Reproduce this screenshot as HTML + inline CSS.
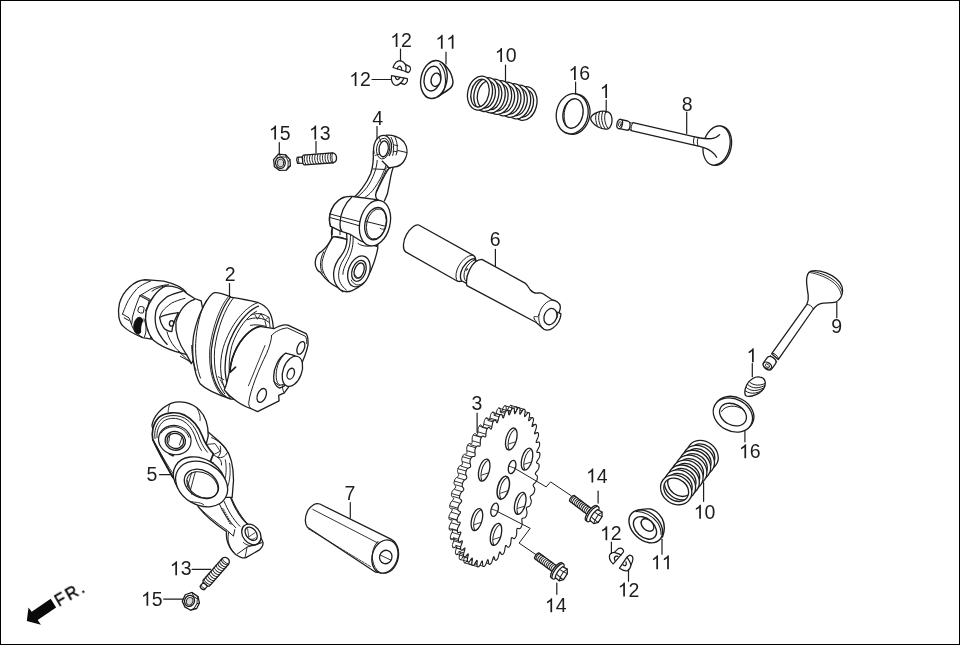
<!DOCTYPE html>
<html><head><meta charset="utf-8"><title>Camshaft / Valve parts diagram</title>
<style>
html,body{margin:0;padding:0;background:#fff;}
body{width:960px;height:645px;overflow:hidden;font-family:"Liberation Sans",sans-serif;}
svg{display:block;}
path,ellipse,line,polyline{stroke-linejoin:round;stroke-linecap:round;}
</style></head><body>
<svg width="960" height="645" viewBox="0 0 960 645">
<defs><filter id="gf" x="-5%" y="-5%" width="110%" height="110%"><feOffset dx="0" dy="0"/></filter></defs>
<rect x="0" y="0" width="960" height="645" fill="#fff"/>
<polygon points="50.7,598.8 56.1,607.5 37.7,619.9 40.9,624.8 26.8,621 28.5,607.5 31.7,611.8" fill="#0a0a0a"/>
<text transform="translate(58.8,606.9) rotate(-30)" font-family="'Liberation Sans', sans-serif" font-size="16.5" letter-spacing="2.2" fill="#000" stroke="#000" stroke-width="0.35" filter="url(#gf)">FR.</text>
<ellipse cx="524.50" cy="103.50" rx="12.25" ry="17.10" transform="rotate(13.00 524.50 103.50)" fill="#fff" stroke="#1d1d1d" stroke-width="1.3" />
<ellipse cx="524.50" cy="103.50" rx="8.85" ry="13.70" transform="rotate(13.00 524.50 103.50)" fill="none" stroke="#1d1d1d" stroke-width="1.3" />
<ellipse cx="518.14" cy="102.01" rx="12.25" ry="17.10" transform="rotate(13.00 518.14 102.01)" fill="#fff" stroke="#1d1d1d" stroke-width="1.3" />
<ellipse cx="518.14" cy="102.01" rx="8.85" ry="13.70" transform="rotate(13.00 518.14 102.01)" fill="none" stroke="#1d1d1d" stroke-width="1.3" />
<ellipse cx="511.79" cy="100.53" rx="12.25" ry="17.10" transform="rotate(13.00 511.79 100.53)" fill="#fff" stroke="#1d1d1d" stroke-width="1.3" />
<ellipse cx="511.79" cy="100.53" rx="8.85" ry="13.70" transform="rotate(13.00 511.79 100.53)" fill="none" stroke="#1d1d1d" stroke-width="1.3" />
<ellipse cx="505.43" cy="99.04" rx="12.25" ry="17.10" transform="rotate(13.00 505.43 99.04)" fill="#fff" stroke="#1d1d1d" stroke-width="1.3" />
<ellipse cx="505.43" cy="99.04" rx="8.85" ry="13.70" transform="rotate(13.00 505.43 99.04)" fill="none" stroke="#1d1d1d" stroke-width="1.3" />
<ellipse cx="499.07" cy="97.56" rx="12.25" ry="17.10" transform="rotate(13.00 499.07 97.56)" fill="#fff" stroke="#1d1d1d" stroke-width="1.3" />
<ellipse cx="499.07" cy="97.56" rx="8.85" ry="13.70" transform="rotate(13.00 499.07 97.56)" fill="none" stroke="#1d1d1d" stroke-width="1.3" />
<ellipse cx="492.71" cy="96.07" rx="12.25" ry="17.10" transform="rotate(13.00 492.71 96.07)" fill="#fff" stroke="#1d1d1d" stroke-width="1.3" />
<ellipse cx="492.71" cy="96.07" rx="8.85" ry="13.70" transform="rotate(13.00 492.71 96.07)" fill="none" stroke="#1d1d1d" stroke-width="1.3" />
<ellipse cx="486.36" cy="94.59" rx="12.25" ry="17.10" transform="rotate(13.00 486.36 94.59)" fill="#fff" stroke="#1d1d1d" stroke-width="1.3" />
<ellipse cx="486.36" cy="94.59" rx="8.85" ry="13.70" transform="rotate(13.00 486.36 94.59)" fill="#fff" stroke="#1d1d1d" stroke-width="1.3" />
<path d="M468.06,90.34 A12.25,17.10 13.00 1 1 491.94,95.86 A12.25,17.10 13.00 1 1 468.06,90.34 Z M471.38,91.11 A8.85,13.70 13.00 1 1 488.62,95.09 A8.85,13.70 13.00 1 1 471.38,91.11 Z" fill="#fff" stroke="#1d1d1d" stroke-width="1.3" fill-rule="evenodd"/>
<ellipse cx="702.60" cy="455.40" rx="14.00" ry="16.50" transform="rotate(-52.50 702.60 455.40)" fill="#fff" stroke="#1d1d1d" stroke-width="1.3" />
<ellipse cx="702.60" cy="455.40" rx="10.60" ry="13.10" transform="rotate(-52.50 702.60 455.40)" fill="none" stroke="#1d1d1d" stroke-width="1.3" />
<ellipse cx="698.83" cy="460.31" rx="14.00" ry="16.50" transform="rotate(-52.50 698.83 460.31)" fill="#fff" stroke="#1d1d1d" stroke-width="1.3" />
<ellipse cx="698.83" cy="460.31" rx="10.60" ry="13.10" transform="rotate(-52.50 698.83 460.31)" fill="none" stroke="#1d1d1d" stroke-width="1.3" />
<ellipse cx="695.06" cy="465.23" rx="14.00" ry="16.50" transform="rotate(-52.50 695.06 465.23)" fill="#fff" stroke="#1d1d1d" stroke-width="1.3" />
<ellipse cx="695.06" cy="465.23" rx="10.60" ry="13.10" transform="rotate(-52.50 695.06 465.23)" fill="none" stroke="#1d1d1d" stroke-width="1.3" />
<ellipse cx="691.29" cy="470.14" rx="14.00" ry="16.50" transform="rotate(-52.50 691.29 470.14)" fill="#fff" stroke="#1d1d1d" stroke-width="1.3" />
<ellipse cx="691.29" cy="470.14" rx="10.60" ry="13.10" transform="rotate(-52.50 691.29 470.14)" fill="none" stroke="#1d1d1d" stroke-width="1.3" />
<ellipse cx="687.51" cy="475.06" rx="14.00" ry="16.50" transform="rotate(-52.50 687.51 475.06)" fill="#fff" stroke="#1d1d1d" stroke-width="1.3" />
<ellipse cx="687.51" cy="475.06" rx="10.60" ry="13.10" transform="rotate(-52.50 687.51 475.06)" fill="none" stroke="#1d1d1d" stroke-width="1.3" />
<ellipse cx="683.74" cy="479.97" rx="14.00" ry="16.50" transform="rotate(-52.50 683.74 479.97)" fill="#fff" stroke="#1d1d1d" stroke-width="1.3" />
<ellipse cx="683.74" cy="479.97" rx="10.60" ry="13.10" transform="rotate(-52.50 683.74 479.97)" fill="none" stroke="#1d1d1d" stroke-width="1.3" />
<ellipse cx="679.97" cy="484.89" rx="14.00" ry="16.50" transform="rotate(-52.50 679.97 484.89)" fill="#fff" stroke="#1d1d1d" stroke-width="1.3" />
<ellipse cx="679.97" cy="484.89" rx="10.60" ry="13.10" transform="rotate(-52.50 679.97 484.89)" fill="#fff" stroke="#1d1d1d" stroke-width="1.3" />
<path d="M667.68,500.91 A14.00,16.50 -52.50 1 1 684.72,478.69 A14.00,16.50 -52.50 1 1 667.68,500.91 Z M669.75,498.21 A10.60,13.10 -52.50 1 1 682.65,481.39 A10.60,13.10 -52.50 1 1 669.75,498.21 Z" fill="#fff" stroke="#1d1d1d" stroke-width="1.3" fill-rule="evenodd"/>
<ellipse cx="574.00" cy="114.20" rx="15.80" ry="20.20" transform="rotate(12.00 574.00 114.20)" fill="#fff" stroke="#1d1d1d" stroke-width="1.3" />
<ellipse cx="572.20" cy="113.75" rx="15.80" ry="20.20" transform="rotate(12.00 572.20 113.75)" fill="#fff" stroke="#1d1d1d" stroke-width="1.3" />
<ellipse cx="573.00" cy="113.50" rx="9.90" ry="14.90" transform="rotate(12.00 573.00 113.50)" fill="#fff" stroke="#1d1d1d" stroke-width="1.3" />
<path d="M566.2,125.6 C562.5,118 563.6,106.5 569.8,100.6" fill="none" stroke="#1d1d1d" stroke-width="1.0" />
<ellipse cx="734.20" cy="413.40" rx="20.60" ry="16.00" transform="rotate(28.00 734.20 413.40)" fill="#fff" stroke="#1d1d1d" stroke-width="1.3" />
<ellipse cx="732.90" cy="415.00" rx="20.60" ry="16.00" transform="rotate(28.00 732.90 415.00)" fill="#fff" stroke="#1d1d1d" stroke-width="1.3" />
<ellipse cx="733.00" cy="414.60" rx="14.20" ry="10.40" transform="rotate(28.00 733.00 414.60)" fill="#fff" stroke="#1d1d1d" stroke-width="1.3" />
<path d="M721.5,411.5 C724.5,405.5 736,403.5 744.5,410.5" fill="none" stroke="#1d1d1d" stroke-width="1.0" />
<path d="M606.0,111.4 C600,110.4 592.5,113.4 590.8,117.6 C590.2,119.8 592.6,123.8 597.6,126.8 C601.6,129.0 606.0,129.4 608.0,128.8 C611.0,127.6 612.4,122.6 612.0,118.6 C611.6,114.6 609.4,111.8 606.0,111.4 Z" fill="#fff" stroke="#1d1d1d" stroke-width="1.3" />
<clipPath id="sc1"><path d="M606.0,111.4 C600,110.4 592.5,113.4 590.8,117.6 C590.2,119.8 592.6,123.8 597.6,126.8 C601.6,129.0 606.0,129.4 608.0,128.8 C611.0,127.6 612.4,122.6 612.0,118.6 C611.6,114.6 609.4,111.8 606.0,111.4 Z"/></clipPath><g clip-path="url(#sc1)">
<path d="M597.0,111.0 C594.4,116.5 595.4,124.4 600.0,130.0" fill="none" stroke="#1d1d1d" stroke-width="1.0" />
<path d="M600.0,111.0 C597.4,116.5 598.4,124.4 603.0,130.0" fill="none" stroke="#1d1d1d" stroke-width="1.0" />
<path d="M603.0,111.0 C600.4,116.5 601.4,124.4 606.0,130.0" fill="none" stroke="#1d1d1d" stroke-width="1.0" />
<path d="M606.0,111.0 C603.4,116.5 604.4,124.4 609.0,130.0" fill="none" stroke="#1d1d1d" stroke-width="1.0" />
</g>
<path d="M760.0,377.2 C755.5,376.0 749.6,379.2 746.8,384.8 C744.6,389.6 744.2,393.8 746.0,395.8 C748.6,397.4 755.0,395.8 759.8,392.6 C763.6,389.8 765.6,385.6 765.2,382.0 C764.8,379.4 762.8,377.6 760.0,377.2 Z" fill="#fff" stroke="#1d1d1d" stroke-width="1.3" />
<clipPath id="sc2"><path d="M760.0,377.2 C755.5,376.0 749.6,379.2 746.8,384.8 C744.6,389.6 744.2,393.8 746.0,395.8 C748.6,397.4 755.0,395.8 759.8,392.6 C763.6,389.8 765.6,385.6 765.2,382.0 C764.8,379.4 762.8,377.6 760.0,377.2 Z"/></clipPath><g clip-path="url(#sc2)">
<path d="M744.0,389.6 C748.5,394.6 756.0,394.4 764.0,389.6" fill="none" stroke="#1d1d1d" stroke-width="1.0" />
<path d="M745.7,386.9 C750.2,391.9 757.7,391.7 765.7,386.9" fill="none" stroke="#1d1d1d" stroke-width="1.0" />
<path d="M747.4,384.2 C751.9,389.2 759.4,389.0 767.4,384.2" fill="none" stroke="#1d1d1d" stroke-width="1.0" />
<path d="M749.1,381.5 C753.6,386.5 761.1,386.3 769.1,381.5" fill="none" stroke="#1d1d1d" stroke-width="1.0" />
</g>
<ellipse cx="718.00" cy="145.80" rx="13.20" ry="19.90" transform="rotate(13.00 718.00 145.80)" fill="#fff" stroke="#1d1d1d" stroke-width="1.3" />
<ellipse cx="716.60" cy="145.50" rx="13.20" ry="19.90" transform="rotate(13.00 716.60 145.50)" fill="#fff" stroke="#1d1d1d" stroke-width="1.3" />
<path d="M633.0,122.7 L693.7,136.6 C700,138.2 706,139.2 711.5,138.6 C715.5,138 718,136.4 719.6,134.6 L716.6,157.2 C714.6,153.4 710.6,150.0 704.6,147.8 C701,146.6 697.5,145.8 694.0,145.1 L631.2,130.6 Z" fill="#fff" stroke="#1d1d1d" stroke-width="0" />
<path d="M633.0,122.7 L693.7,136.6 C700,138.2 706,139.2 711.5,138.6 C715.5,138 718,136.4 719.6,134.6" fill="none" stroke="#1d1d1d" stroke-width="1.3" />
<path d="M631.2,130.6 L694.0,145.1 C697.5,145.8 701,146.6 704.6,147.8 C710.6,150.0 714.6,153.4 716.6,157.2" fill="none" stroke="#1d1d1d" stroke-width="1.3" />
<path d="M694.4,136.8 C693.2,139.6 693.2,142.6 694.2,145.1" fill="none" stroke="#1d1d1d" stroke-width="1.0" />
<path d="M698.2,137.7 C697.0,140.6 697.0,143.4 698.0,146.0" fill="none" stroke="#1d1d1d" stroke-width="1.0" />
<path d="M633.0,122.7 C631.4,124.8 630.6,128.2 631.2,130.6" fill="none" stroke="#1d1d1d" stroke-width="1.0" />
<path d="M629.6,122.6 L632.6,123.4 M628.6,129.4 L631.4,130.2" fill="none" stroke="#1d1d1d" stroke-width="1.0" />
<path d="M620.2,119.4 L627.6,121.0 C629.6,121.6 630.4,124.0 630.0,126.6 C629.6,129.0 628.4,130.4 626.8,130.2 L619.2,128.6 Z" fill="#fff" stroke="#1d1d1d" stroke-width="1.3" />
<ellipse cx="619.70" cy="124.00" rx="2.70" ry="4.70" transform="rotate(13.00 619.70 124.00)" fill="#fff" stroke="#1d1d1d" stroke-width="1.3" />
<ellipse cx="619.90" cy="124.10" rx="1.30" ry="2.50" transform="rotate(13.00 619.90 124.10)" fill="#fff" stroke="#1d1d1d" stroke-width="0.9" />
<path d="M771.7,353.7 L806.9,304.3 C808.2,301.5 808.6,298.6 808.2,295.2 C807.6,290.4 806.4,284.6 806.6,279.6 C806.9,275.4 808.0,272.6 810.4,271.4 C815.4,269.4 824.4,271.0 832.0,275.6 C839.0,279.8 842.6,285.4 842.6,290.4 C842.6,295.6 839.6,299.8 835.6,302.2 C831.0,303.4 826.0,302.6 821.6,303.4 C818.2,304.2 815.6,306.2 813.4,309.0 L778.2,359.6 Z" fill="#fff" stroke="#1d1d1d" stroke-width="1.3" />
<path d="M810.4,271.4 C814.4,271.4 823.4,273.6 830.6,278.0 C837.4,282.2 841.4,287.6 842.4,292.4" fill="none" stroke="#1d1d1d" stroke-width="1.0" />
<path d="M809.2,272.4 C813.4,273.0 822.4,275.4 829.6,279.8 C836.4,284.0 840.4,289.6 841.2,294.6" fill="none" stroke="#1d1d1d" stroke-width="0.9" />
<path d="M806.9,304.3 C809.6,304.6 812.2,306.4 813.4,309.0" fill="none" stroke="#1d1d1d" stroke-width="1.0" />
<path d="M772.4,353.0 C774.6,353.4 777.4,355.6 778.6,358.6" fill="none" stroke="#1d1d1d" stroke-width="1.0" />
<path d="M770.4,355.6 L768.4,358.2 M776.6,361.6 L775.0,363.6" fill="none" stroke="#1d1d1d" stroke-width="1.0" />
<path d="M767.6,357.2 L763.6,362.6 C762.6,364.6 763.6,367.4 766.0,369.0 C768.2,370.4 770.6,370.2 771.8,368.8 L775.6,363.6 C776.6,361.8 775.4,359.2 773.2,357.6 C771.0,356.2 768.8,356.0 767.6,357.2 Z" fill="#fff" stroke="#1d1d1d" stroke-width="1.3" />
<ellipse cx="767.40" cy="365.60" rx="4.60" ry="3.00" transform="rotate(33.00 767.40 365.60)" fill="#fff" stroke="#1d1d1d" stroke-width="1.3" />
<ellipse cx="767.40" cy="365.70" rx="2.30" ry="1.40" transform="rotate(33.00 767.40 365.70)" fill="#fff" stroke="#1d1d1d" stroke-width="0.9" />
<path d="M437.0,61.2 C441,61.6 445,64.6 447.6,68.2 C450.6,72.0 452.6,76.6 453.0,82.1 C452.8,85.6 451.0,88.0 449.1,89.1 C446,91.6 441,94.6 434.6,98.0 Z" fill="#fff" stroke="#1d1d1d" stroke-width="1.4" />
<ellipse cx="433.90" cy="79.50" rx="13.00" ry="19.20" transform="rotate(12.00 433.90 79.50)" fill="#fff" stroke="#1d1d1d" stroke-width="1.4" />
<path d="M439.8,63.6 C444.8,68.8 446.8,78.6 444.8,87.6 C443.6,92.0 441.2,95.0 438.4,96.8" fill="none" stroke="#1d1d1d" stroke-width="1.1" />
<ellipse cx="432.40" cy="78.60" rx="8.20" ry="12.50" transform="rotate(12.00 432.40 78.60)" fill="#fff" stroke="#1d1d1d" stroke-width="1.4" />
<ellipse cx="435.90" cy="79.80" rx="4.80" ry="6.70" transform="rotate(12.00 435.90 79.80)" fill="#fff" stroke="#1d1d1d" stroke-width="1.4" />
<path d="M634.0,512.0 C638,509.6 644,508.6 649.5,508.9 C654,509.4 658.6,512.6 662.2,518.6 C664.6,523.6 665.0,530.6 662.5,537.0 Z" fill="#fff" stroke="#1d1d1d" stroke-width="1.4" />
<ellipse cx="645.80" cy="526.40" rx="19.20" ry="13.60" transform="rotate(43.00 645.80 526.40)" fill="#fff" stroke="#1d1d1d" stroke-width="1.4" />
<path d="M636.0,511.6 C643.6,511.2 652.6,515.6 657.8,523.0 C660.2,527.0 661.2,531.0 661.0,534.4" fill="none" stroke="#1d1d1d" stroke-width="1.1" />
<ellipse cx="645.00" cy="527.90" rx="13.40" ry="9.00" transform="rotate(43.00 645.00 527.90)" fill="#fff" stroke="#1d1d1d" stroke-width="1.4" />
<ellipse cx="647.50" cy="525.00" rx="7.40" ry="5.00" transform="rotate(43.00 647.50 525.00)" fill="#fff" stroke="#1d1d1d" stroke-width="1.4" />
<path d="M393.0,67.5 C394.5,63.5 397.5,60.6 400.6,60.7 C402.6,61.4 404.4,63.0 405.4,64.4 L409.8,66.6 C410.8,68.0 410.8,70.6 408.5,72.5 C407.6,72.6 406.6,72.0 405.7,71.5 Z" fill="#fff" stroke="#1d1d1d" stroke-width="1.25" />
<path d="M405.4,64.4 C406.2,66.6 406.2,69.4 405.7,71.5" fill="none" stroke="#1d1d1d" stroke-width="1.25" />
<path d="M397.4,68.8 C397.8,66.8 399.2,65.8 400.2,66.2 C401.2,66.8 401.8,68.2 401.7,69.8" fill="none" stroke="#1d1d1d" stroke-width="1.25" />
<path d="M391.5,75.6 L407.3,78.7 C407.8,80.4 407.4,82.2 404.8,84.3 C403.4,84.4 401.8,83.6 400.5,83.0 C398.6,85.0 396.4,85.8 394.6,85.0 C392.4,83.6 391.0,80.6 391.5,75.6 Z" fill="#fff" stroke="#1d1d1d" stroke-width="1.25" />
<path d="M403.8,78.2 C403.2,80.2 402.0,81.8 400.5,83.0" fill="none" stroke="#1d1d1d" stroke-width="1.25" />
<path d="M395.2,76.6 C395.6,78.6 396.6,79.8 397.6,79.6 C398.8,79.2 399.6,78.4 399.9,77.5" fill="none" stroke="#1d1d1d" stroke-width="1.25" />
<path d="M613.3,563.9 C610.6,561.6 608.8,558.0 609.6,555.0 C610.6,553.2 612.4,552.4 614.3,552.4 L618.6,548.4 C620.6,547.8 622.8,548.6 623.5,550.6 C623.6,551.2 623.5,551.6 623.3,552.1 Z" fill="#fff" stroke="#1d1d1d" stroke-width="1.25" />
<path d="M614.3,552.4 C616.6,553.0 619.0,554.0 621.2,554.8" fill="none" stroke="#1d1d1d" stroke-width="1.25" />
<path d="M614.9,560.6 C614.0,558.6 614.4,557.0 615.6,556.4 C616.4,556.0 617.2,556.1 617.8,556.4" fill="none" stroke="#1d1d1d" stroke-width="1.25" />
<path d="M619.5,568.2 L627.3,556.7 L629.5,555.2 C631.6,555.4 633.0,557.0 632.9,559.0 C632.8,561.0 632.0,563.0 631.0,564.8 C630.6,567.4 629.4,569.6 627.6,570.6 C625.0,571.2 622.0,570.0 619.5,568.2 Z" fill="#fff" stroke="#1d1d1d" stroke-width="1.25" />
<path d="M627.3,557.6 C628.8,559.8 630.2,562.4 631.0,564.8" fill="none" stroke="#1d1d1d" stroke-width="1.25" />
<path d="M623.0,564.8 C624.0,565.8 625.2,565.8 625.8,565.2 C626.4,564.2 626.4,563.0 626.0,561.8" fill="none" stroke="#1d1d1d" stroke-width="1.25" />
<path d="M418.75,225.0 L473.75,255.6 C478.0,258.6 476.0,268.0 470.0,274.6 C465.6,279.4 460.6,282.2 457.5,281.25 L405.6,251.9 C402.6,249.4 402.6,241.4 406.6,234.4 C410.2,228.0 415.6,224.0 418.75,225.0 Z" fill="#fff" stroke="#1d1d1d" stroke-width="1.3" />
<path d="M473.0,255.2 C467.6,254.6 460.0,261.6 457.0,270.0 C455.4,275.0 455.6,279.4 457.5,281.25" fill="none" stroke="#1d1d1d" stroke-width="1.0" />
<path d="M474.6,258.6 C469.6,258.6 463.0,265.0 461.0,272.0 C460.0,276.0 460.6,279.6 462.0,281.0 L466.4,283.4 L476.0,262.0 Z" fill="#fff" stroke="#1d1d1d" stroke-width="1.3" />
<path d="M475.6,259.6 C471.0,260.6 466.0,266.0 464.4,272.4 C463.6,276.0 464.0,279.0 465.4,280.6" fill="none" stroke="#1d1d1d" stroke-width="1.0" />
<ellipse cx="466.30" cy="269.20" rx="0.90" ry="1.40" transform="rotate(20.00 466.30 269.20)" fill="#fff" stroke="#1d1d1d" stroke-width="0.8" />
<path d="M481.9,259.4 L525.0,283.1 C527.6,284.8 528.6,287.8 530.4,290.0 C532.4,292.4 535.6,293.4 538.6,293.0 C540.6,292.8 541.6,292.8 543.0,293.8 L552.5,300.0 C556.0,300.6 559.6,303.0 560.2,306.0 C560.8,308.6 559.6,310.6 559.0,312.6 L561.0,314.0 C560.6,319.0 557.6,324.6 553.0,328.0 C549.6,330.4 546.0,330.6 543.6,329.0 L536.25,322.5 L466.9,285.6 C466.0,281.6 466.6,275.6 469.6,269.6 C472.6,263.6 477.6,259.6 481.9,259.4 Z" fill="#fff" stroke="#1d1d1d" stroke-width="1.3" />
<path d="M552.5,300.0 C547.0,300.6 541.6,306.0 539.6,312.6 C539.0,314.6 538.6,316.0 537.6,316.6 C536.0,317.0 535.0,316.0 534.2,316.6 C533.4,318.0 534.6,320.0 536.2,321.6" fill="none" stroke="#1d1d1d" stroke-width="1.0" />
<path d="M539.0,314.6 C538.0,319.6 539.6,326.0 543.6,329.0" fill="none" stroke="#1d1d1d" stroke-width="1.0" />
<ellipse cx="550.40" cy="316.60" rx="6.20" ry="8.40" transform="rotate(22.00 550.40 316.60)" fill="#fff" stroke="#1d1d1d" stroke-width="1.3" />
<path d="M556.4,311.6 L560.6,313.6 M556.6,318.6 C557.6,317.0 558.0,314.6 557.6,312.6" fill="none" stroke="#1d1d1d" stroke-width="1.0" />
<path d="M319.8,504.0 L391.9,539.7 C397.0,542.6 399.6,550.0 398.2,558.0 C396.6,566.6 390.6,573.0 384.0,573.0 C380.6,573.0 377.6,572.6 375.6,572.2 L307.4,527.3 C304.6,524.0 304.6,517.0 307.6,511.0 C310.6,505.6 315.6,502.6 319.8,504.0 Z" fill="#fff" stroke="#1d1d1d" stroke-width="1.3" />
<ellipse cx="384.90" cy="556.50" rx="12.60" ry="17.00" transform="rotate(18.00 384.90 556.50)" fill="#fff" stroke="#1d1d1d" stroke-width="1.3" />
<path d="M378.0,541.4 C373.6,545.4 371.6,553.0 372.6,560.0 C373.4,565.6 376.0,570.0 379.6,572.4" fill="none" stroke="#1d1d1d" stroke-width="1.0" />
<ellipse cx="385.80" cy="557.00" rx="6.20" ry="6.80" transform="rotate(18.00 385.80 557.00)" fill="#fff" stroke="#1d1d1d" stroke-width="1.3" />
<path d="M380.2,555.0 L391.0,560.2" fill="none" stroke="#1d1d1d" stroke-width="0.9" />
<path d="M312.8,509.4 L378.6,543.4" fill="none" stroke="#1d1d1d" stroke-width="0.9" />
<path d="M308.2,528.8 L371.0,566.8" fill="none" stroke="#1d1d1d" stroke-width="0.8" stroke-dasharray="2.5 1.2"/>
<g transform="translate(282 162.2) rotate(0)">
<path d="M-3.6,-8.0 L3.6,-7.4 L8.0,-2.6 L8.4,3.6 L4.2,8.0 L-2.4,8.2 L-7.6,4.6 L-8.4,-2.6 Z" fill="#fff" stroke="#1d1d1d" stroke-width="1.3" />
<path d="M-3.6,-8.0 L-0.4,-5.4 L4.2,-5.0 L3.6,-7.4 M4.2,-5.0 L6.2,-0.6 L8.0,-2.6 M6.2,-0.6 L6.0,4.6 L8.4,3.6 M6.0,4.6 L4.2,8.0" fill="none" stroke="#1d1d1d" stroke-width="0.9" />
<ellipse cx="-1.60" cy="0.60" rx="4.90" ry="5.60" transform="rotate(-8.00 -1.60 0.60)" fill="#fff" stroke="#1d1d1d" stroke-width="1.3" />
<ellipse cx="-1.40" cy="0.80" rx="3.20" ry="3.90" transform="rotate(-8.00 -1.40 0.80)" fill="#d8d8d8" stroke="#1d1d1d" stroke-width="0.9" />
</g>
<g transform="translate(191.2 601.2) rotate(30)">
<path d="M-3.6,-8.0 L3.6,-7.4 L8.0,-2.6 L8.4,3.6 L4.2,8.0 L-2.4,8.2 L-7.6,4.6 L-8.4,-2.6 Z" fill="#fff" stroke="#1d1d1d" stroke-width="1.3" />
<path d="M-3.6,-8.0 L-0.4,-5.4 L4.2,-5.0 L3.6,-7.4 M4.2,-5.0 L6.2,-0.6 L8.0,-2.6 M6.2,-0.6 L6.0,4.6 L8.4,3.6 M6.0,4.6 L4.2,8.0" fill="none" stroke="#1d1d1d" stroke-width="0.9" />
<ellipse cx="-1.60" cy="0.60" rx="4.90" ry="5.60" transform="rotate(-8.00 -1.60 0.60)" fill="#fff" stroke="#1d1d1d" stroke-width="1.3" />
<ellipse cx="-1.40" cy="0.80" rx="3.20" ry="3.90" transform="rotate(-8.00 -1.40 0.80)" fill="#d8d8d8" stroke="#1d1d1d" stroke-width="0.9" />
</g>
<g transform="translate(296.8 160.4) rotate(-4)">
<path d="M0.6,-3.03 L5.8,-3.23 L5.8,3.23 L0.6,3.03 C-0.4,1.0 -0.4,-1.0 0.6,-3.03 Z" fill="#fff" stroke="#1d1d1d" stroke-width="1.3" />
<path d="M2.2,-3.13 C1.4,-1.0 1.4,1.0 2.2,3.13" fill="none" stroke="#1d1d1d" stroke-width="0.9" />
<path d="M5.8,-3.23 L7.0,-4.90 L36.4,-4.90 C39.0,-4.17 39.8,-1.96 39.8,0 C39.8,1.96 39.0,4.17 36.4,4.90 L7.0,4.90 L5.8,3.23 Z" fill="#fff" stroke="#1d1d1d" stroke-width="1.3" />
<path d="M8.8,-5.10 C7.0,-2.45 7.0,2.45 9.2,5.10" fill="none" stroke="#1d1d1d" stroke-width="0.95" />
<path d="M11.4,-5.10 C9.6,-2.45 9.6,2.45 11.8,5.10" fill="none" stroke="#1d1d1d" stroke-width="0.95" />
<path d="M14.0,-5.10 C12.2,-2.45 12.2,2.45 14.4,5.10" fill="none" stroke="#1d1d1d" stroke-width="0.95" />
<path d="M16.6,-5.10 C14.8,-2.45 14.8,2.45 17.0,5.10" fill="none" stroke="#1d1d1d" stroke-width="0.95" />
<path d="M19.2,-5.10 C17.4,-2.45 17.4,2.45 19.6,5.10" fill="none" stroke="#1d1d1d" stroke-width="0.95" />
<path d="M21.8,-5.10 C20.0,-2.45 20.0,2.45 22.2,5.10" fill="none" stroke="#1d1d1d" stroke-width="0.95" />
<path d="M24.4,-5.10 C22.6,-2.45 22.6,2.45 24.8,5.10" fill="none" stroke="#1d1d1d" stroke-width="0.95" />
<path d="M27.0,-5.10 C25.2,-2.45 25.2,2.45 27.4,5.10" fill="none" stroke="#1d1d1d" stroke-width="0.95" />
<path d="M29.6,-5.10 C27.8,-2.45 27.8,2.45 30.0,5.10" fill="none" stroke="#1d1d1d" stroke-width="0.95" />
<path d="M32.2,-5.10 C30.4,-2.45 30.4,2.45 32.6,5.10" fill="none" stroke="#1d1d1d" stroke-width="0.95" />
<path d="M34.8,-5.10 C33.0,-2.45 33.0,2.45 35.2,5.10" fill="none" stroke="#1d1d1d" stroke-width="0.95" />
<path d="M36.2,-4.90 C34.8,-2.45 34.8,2.45 36.2,4.90" fill="none" stroke="#1d1d1d" stroke-width="0.9" />
</g>
<g transform="translate(201.6 588.6) rotate(-49)">
<path d="M0.6,-2.64 L5.8,-2.84 L5.8,2.84 L0.6,2.64 C-0.4,1.0 -0.4,-1.0 0.6,-2.64 Z" fill="#fff" stroke="#1d1d1d" stroke-width="1.3" />
<path d="M2.2,-2.74 C1.4,-1.0 1.4,1.0 2.2,2.74" fill="none" stroke="#1d1d1d" stroke-width="0.9" />
<path d="M5.8,-2.84 L7.0,-4.30 L36.4,-4.30 C39.0,-3.65 39.8,-1.72 39.8,0 C39.8,1.72 39.0,3.65 36.4,4.30 L7.0,4.30 L5.8,2.84 Z" fill="#fff" stroke="#1d1d1d" stroke-width="1.3" />
<path d="M8.8,-4.50 C7.0,-2.15 7.0,2.15 9.2,4.50" fill="none" stroke="#1d1d1d" stroke-width="0.95" />
<path d="M11.4,-4.50 C9.6,-2.15 9.6,2.15 11.8,4.50" fill="none" stroke="#1d1d1d" stroke-width="0.95" />
<path d="M14.0,-4.50 C12.2,-2.15 12.2,2.15 14.4,4.50" fill="none" stroke="#1d1d1d" stroke-width="0.95" />
<path d="M16.6,-4.50 C14.8,-2.15 14.8,2.15 17.0,4.50" fill="none" stroke="#1d1d1d" stroke-width="0.95" />
<path d="M19.2,-4.50 C17.4,-2.15 17.4,2.15 19.6,4.50" fill="none" stroke="#1d1d1d" stroke-width="0.95" />
<path d="M21.8,-4.50 C20.0,-2.15 20.0,2.15 22.2,4.50" fill="none" stroke="#1d1d1d" stroke-width="0.95" />
<path d="M24.4,-4.50 C22.6,-2.15 22.6,2.15 24.8,4.50" fill="none" stroke="#1d1d1d" stroke-width="0.95" />
<path d="M27.0,-4.50 C25.2,-2.15 25.2,2.15 27.4,4.50" fill="none" stroke="#1d1d1d" stroke-width="0.95" />
<path d="M29.6,-4.50 C27.8,-2.15 27.8,2.15 30.0,4.50" fill="none" stroke="#1d1d1d" stroke-width="0.95" />
<path d="M32.2,-4.50 C30.4,-2.15 30.4,2.15 32.6,4.50" fill="none" stroke="#1d1d1d" stroke-width="0.95" />
<path d="M34.8,-4.50 C33.0,-2.15 33.0,2.15 35.2,4.50" fill="none" stroke="#1d1d1d" stroke-width="0.95" />
<path d="M36.2,-4.30 C34.8,-2.15 34.8,2.15 36.2,4.30" fill="none" stroke="#1d1d1d" stroke-width="0.9" />
</g>
<g transform="translate(571.0 497.7) rotate(37.0)">
<path d="M0.8,-3.6 L24,-3.6 L24,3.6 L0.8,3.6 C-0.6,2.0 -0.6,-2.0 0.8,-3.6 Z" fill="#fff" stroke="#1d1d1d" stroke-width="1.3" />
<path d="M2.4,-3.8 C1.1,-1.6 1.1,1.6 2.6,3.8" fill="none" stroke="#1d1d1d" stroke-width="0.95" />
<path d="M4.4,-3.8 C3.1,-1.6 3.1,1.6 4.6,3.8" fill="none" stroke="#1d1d1d" stroke-width="0.95" />
<path d="M6.5,-3.8 C5.2,-1.6 5.2,1.6 6.7,3.8" fill="none" stroke="#1d1d1d" stroke-width="0.95" />
<path d="M8.5,-3.8 C7.2,-1.6 7.2,1.6 8.7,3.8" fill="none" stroke="#1d1d1d" stroke-width="0.95" />
<path d="M10.6,-3.8 C9.3,-1.6 9.3,1.6 10.8,3.8" fill="none" stroke="#1d1d1d" stroke-width="0.95" />
<path d="M12.7,-3.8 C11.3,-1.6 11.3,1.6 12.8,3.8" fill="none" stroke="#1d1d1d" stroke-width="0.95" />
<path d="M14.7,-3.8 C13.4,-1.6 13.4,1.6 14.9,3.8" fill="none" stroke="#1d1d1d" stroke-width="0.95" />
<path d="M16.7,-3.8 C15.4,-1.6 15.4,1.6 16.9,3.8" fill="none" stroke="#1d1d1d" stroke-width="0.95" />
<path d="M18.8,-3.8 C17.5,-1.6 17.5,1.6 19.0,3.8" fill="none" stroke="#1d1d1d" stroke-width="0.95" />
<path d="M20.8,-3.8 C19.5,-1.6 19.5,1.6 21.0,3.8" fill="none" stroke="#1d1d1d" stroke-width="0.95" />
<path d="M22.9,-3.8 C21.6,-1.6 21.6,1.6 23.1,3.8" fill="none" stroke="#1d1d1d" stroke-width="0.95" />
<ellipse cx="25.60" cy="0.00" rx="3.40" ry="9.30" transform="rotate(0.00 25.60 0.00)" fill="#fff" stroke="#1d1d1d" stroke-width="1.3" />
<ellipse cx="27.30" cy="0.00" rx="3.40" ry="9.30" transform="rotate(0.00 27.30 0.00)" fill="#fff" stroke="#1d1d1d" stroke-width="1.3" />
<path d="M28.2,-6.4 L33.4,-7.2 L36.2,-3.6 L36.6,3.4 L33.8,7.0 L28.6,6.6 C26.8,3.2 26.8,-3.2 28.2,-6.4 Z" fill="#fff" stroke="#1d1d1d" stroke-width="1.3" />
<path d="M33.4,-7.2 L32.0,-2.8 L32.6,3.6 L33.8,7.0 M32.0,-2.8 L36.2,-3.6 M32.6,3.6 L36.6,3.4 M28.4,-2.6 L32.0,-2.8 M28.6,3.2 L32.6,3.6" fill="none" stroke="#1d1d1d" stroke-width="0.95" />
</g>
<g transform="translate(536.0 555.2) rotate(36.2)">
<path d="M0.8,-3.6 L24,-3.6 L24,3.6 L0.8,3.6 C-0.6,2.0 -0.6,-2.0 0.8,-3.6 Z" fill="#fff" stroke="#1d1d1d" stroke-width="1.3" />
<path d="M2.4,-3.8 C1.1,-1.6 1.1,1.6 2.6,3.8" fill="none" stroke="#1d1d1d" stroke-width="0.95" />
<path d="M4.4,-3.8 C3.1,-1.6 3.1,1.6 4.6,3.8" fill="none" stroke="#1d1d1d" stroke-width="0.95" />
<path d="M6.5,-3.8 C5.2,-1.6 5.2,1.6 6.7,3.8" fill="none" stroke="#1d1d1d" stroke-width="0.95" />
<path d="M8.5,-3.8 C7.2,-1.6 7.2,1.6 8.7,3.8" fill="none" stroke="#1d1d1d" stroke-width="0.95" />
<path d="M10.6,-3.8 C9.3,-1.6 9.3,1.6 10.8,3.8" fill="none" stroke="#1d1d1d" stroke-width="0.95" />
<path d="M12.7,-3.8 C11.3,-1.6 11.3,1.6 12.8,3.8" fill="none" stroke="#1d1d1d" stroke-width="0.95" />
<path d="M14.7,-3.8 C13.4,-1.6 13.4,1.6 14.9,3.8" fill="none" stroke="#1d1d1d" stroke-width="0.95" />
<path d="M16.7,-3.8 C15.4,-1.6 15.4,1.6 16.9,3.8" fill="none" stroke="#1d1d1d" stroke-width="0.95" />
<path d="M18.8,-3.8 C17.5,-1.6 17.5,1.6 19.0,3.8" fill="none" stroke="#1d1d1d" stroke-width="0.95" />
<path d="M20.8,-3.8 C19.5,-1.6 19.5,1.6 21.0,3.8" fill="none" stroke="#1d1d1d" stroke-width="0.95" />
<path d="M22.9,-3.8 C21.6,-1.6 21.6,1.6 23.1,3.8" fill="none" stroke="#1d1d1d" stroke-width="0.95" />
<ellipse cx="25.60" cy="0.00" rx="3.40" ry="9.30" transform="rotate(0.00 25.60 0.00)" fill="#fff" stroke="#1d1d1d" stroke-width="1.3" />
<ellipse cx="27.30" cy="0.00" rx="3.40" ry="9.30" transform="rotate(0.00 27.30 0.00)" fill="#fff" stroke="#1d1d1d" stroke-width="1.3" />
<path d="M28.2,-6.4 L33.4,-7.2 L36.2,-3.6 L36.6,3.4 L33.8,7.0 L28.6,6.6 C26.8,3.2 26.8,-3.2 28.2,-6.4 Z" fill="#fff" stroke="#1d1d1d" stroke-width="1.3" />
<path d="M33.4,-7.2 L32.0,-2.8 L32.6,3.6 L33.8,7.0 M32.0,-2.8 L36.2,-3.6 M32.6,3.6 L36.6,3.4 M28.4,-2.6 L32.0,-2.8 M28.6,3.2 L32.6,3.6" fill="none" stroke="#1d1d1d" stroke-width="0.95" />
</g>
<path d="M511.84,411.87 L512.36,411.41 L513.16,410.08 L514.04,408.53 L514.82,407.37 L515.40,406.85 L515.83,406.82 L516.20,406.98 L516.55,407.18 L516.85,407.57 L516.97,408.45 L516.86,409.95 L516.60,411.82 L516.42,413.45 L516.53,414.23 L517.05,413.91 L517.89,412.77 L518.83,411.41 L519.64,410.43 L520.22,410.07 L520.62,410.18 L520.94,410.48 L521.24,410.82 L521.47,411.33 L521.50,412.31 L521.26,413.87 L520.86,415.78 L520.55,417.45 L520.58,418.33 L521.08,418.16 L521.95,417.23 L522.93,416.10 L523.75,415.32 L524.31,415.13 L524.66,415.39 L524.92,415.82 L525.17,416.28 L525.33,416.90 L525.27,417.95 L524.91,419.54 L524.37,421.44 L523.93,423.12 L523.88,424.06 L524.35,424.06 L525.22,423.35 L526.22,422.48 L527.04,421.93 L527.56,421.91 L527.85,422.31 L528.05,422.85 L528.23,423.42 L528.32,424.15 L528.17,425.25 L527.70,426.82 L527.04,428.67 L526.49,430.31 L526.36,431.30 L526.78,431.45 L527.64,430.99 L528.62,430.39 L529.42,430.09 L529.90,430.25 L530.12,430.76 L530.26,431.41 L530.37,432.09 L530.39,432.89 L530.15,434.01 L529.58,435.53 L528.81,437.28 L528.16,438.84 L527.94,439.85 L528.32,440.16 L529.14,439.96 L530.09,439.65 L530.84,439.59 L531.26,439.93 L531.42,440.55 L531.48,441.29 L531.52,442.05 L531.46,442.91 L531.14,444.02 L530.49,445.46 L529.63,447.06 L528.89,448.51 L528.61,449.52 L528.92,449.97 L529.69,450.04 L530.57,450.02 L531.26,450.22 L531.61,450.71 L531.70,451.44 L531.69,452.24 L531.66,453.06 L531.52,453.96 L531.13,455.05 L530.41,456.35 L529.48,457.77 L528.68,459.08 L528.33,460.05 L528.57,460.64 L529.26,460.97 L530.07,461.26 L530.67,461.69 L530.95,462.34 L530.96,463.14 L530.88,464.00 L530.77,464.87 L530.57,465.78 L530.12,466.80 L529.34,467.95 L528.37,469.16 L527.52,470.28 L527.12,471.20 L527.28,471.91 L527.88,472.49 L528.59,473.07 L529.10,473.74 L529.29,474.52 L529.23,475.38 L529.07,476.27 L528.90,477.16 L528.63,478.07 L528.13,479.01 L527.31,479.97 L526.32,480.93 L525.45,481.84 L525.00,482.68 L525.08,483.50 L525.57,484.32 L526.16,485.18 L526.56,486.06 L526.66,486.96 L526.53,487.86 L526.31,488.75 L526.07,489.64 L525.75,490.52 L525.20,491.35 L524.37,492.11 L523.39,492.80 L522.51,493.47 L522.02,494.22 L522.03,495.12 L522.40,496.16 L522.85,497.27 L523.14,498.36 L523.15,499.35 L522.95,500.27 L522.66,501.14 L522.37,502.01 L521.99,502.84 L521.42,503.54 L520.60,504.07 L519.64,504.47 L518.79,504.89 L518.27,505.53 L518.19,506.49 L518.43,507.73 L518.75,509.07 L518.91,510.32 L518.83,511.38 L518.56,512.29 L518.22,513.13 L517.87,513.96 L517.46,514.72 L516.87,515.27 L516.08,515.56 L515.17,515.66 L514.36,515.83 L513.83,516.33 L513.67,517.33 L513.78,518.73 L513.94,520.27 L513.97,521.66 L513.80,522.76 L513.48,523.64 L513.09,524.43 L512.70,525.19 L512.25,525.86 L511.67,526.25 L510.93,526.29 L510.09,526.10 L509.34,526.00 L508.81,526.36 L508.58,527.37 L508.55,528.90 L508.56,530.59 L508.46,532.09 L508.20,533.21 L507.82,534.04 L507.41,534.75 L506.98,535.43 L506.51,535.99 L505.95,536.22 L505.27,536.01 L504.53,535.52 L503.85,535.16 L503.34,535.37 L503.03,536.37 L502.87,537.99 L502.72,539.80 L502.49,541.36 L502.16,542.47 L501.74,543.23 L501.30,543.84 L500.85,544.43 L500.37,544.87 L499.84,544.92 L499.24,544.46 L498.61,543.69 L498.03,543.08 L497.55,543.13 L497.18,544.09 L496.88,545.77 L496.58,547.65 L496.23,549.24 L495.83,550.31 L495.38,550.98 L494.92,551.48 L494.46,551.95 L493.98,552.26 L493.50,552.14 L492.99,551.45 L492.49,550.42 L492.02,549.56 L491.58,549.46 L491.15,550.36 L490.73,552.05 L490.29,553.95 L489.83,555.53 L489.36,556.54 L488.89,557.10 L488.43,557.48 L487.96,557.83 L487.51,558.00 L487.07,557.71 L486.68,556.80 L486.32,555.53 L485.97,554.46 L485.58,554.20 L485.11,555.02 L484.57,556.67 L483.99,558.56 L483.43,560.09 L482.92,561.01 L482.44,561.45 L481.98,561.70 L481.53,561.91 L481.10,561.94 L480.73,561.48 L480.46,560.38 L480.25,558.90 L480.03,557.64 L479.69,557.24 L479.19,557.95 L478.55,559.53 L477.86,561.35 L477.21,562.80 L476.66,563.60 L476.18,563.91 L475.75,564.02 L475.32,564.10 L474.92,563.99 L474.63,563.37 L474.48,562.10 L474.43,560.45 L474.34,559.04 L474.07,558.49 L473.55,559.09 L472.83,560.56 L472.03,562.26 L471.31,563.58 L470.73,564.25 L470.28,564.42 L469.87,564.40 L469.47,564.34 L469.12,564.08 L468.91,563.33 L468.89,561.93 L468.99,560.15 L469.04,558.60 L468.85,557.93 L468.33,558.39 L467.53,559.72 L466.65,561.27 L465.88,562.43 L465.29,562.95 L464.86,562.98 L464.49,562.82 L464.14,562.62 L463.85,562.23 L463.73,561.35 L463.83,559.85 L464.09,557.98 L464.27,556.35 L464.16,555.57 L463.64,555.89 L462.80,557.03 L461.86,558.39 L461.05,559.37 L460.47,559.73 L460.08,559.62 L459.76,559.32 L459.45,558.98 L459.22,558.47 L459.19,557.49 L459.43,555.93 L459.83,554.02 L460.15,552.35 L460.11,551.47 L459.61,551.64 L458.74,552.57 L457.77,553.70 L456.94,554.48 L456.38,554.67 L456.04,554.41 L455.77,553.98 L455.53,553.52 L455.36,552.90 L455.43,551.85 L455.78,550.26 L456.32,548.36 L456.76,546.68 L456.81,545.74 L456.34,545.74 L455.47,546.45 L454.48,547.32 L453.66,547.87 L453.13,547.89 L452.84,547.49 L452.64,546.95 L452.46,546.38 L452.37,545.65 L452.52,544.55 L452.99,542.98 L453.65,541.13 L454.20,539.49 L454.34,538.50 L453.91,538.35 L453.05,538.81 L452.07,539.41 L451.27,539.71 L450.80,539.55 L450.57,539.04 L450.43,538.39 L450.32,537.71 L450.31,536.91 L450.54,535.79 L451.11,534.27 L451.88,532.52 L452.54,530.96 L452.75,529.95 L452.37,529.64 L451.55,529.84 L450.61,530.15 L449.85,530.21 L449.43,529.87 L449.27,529.25 L449.21,528.51 L449.17,527.75 L449.23,526.89 L449.55,525.78 L450.21,524.34 L451.06,522.74 L451.80,521.29 L452.08,520.28 L451.77,519.83 L451.01,519.76 L450.12,519.78 L449.43,519.58 L449.08,519.09 L448.99,518.36 L449.00,517.56 L449.04,516.74 L449.17,515.84 L449.56,514.75 L450.29,513.45 L451.21,512.03 L452.01,510.72 L452.36,509.75 L452.12,509.16 L451.43,508.83 L450.62,508.54 L450.02,508.11 L449.74,507.46 L449.73,506.66 L449.81,505.80 L449.92,504.93 L450.12,504.02 L450.57,503.00 L451.35,501.85 L452.32,500.64 L453.17,499.52 L453.58,498.60 L453.41,497.89 L452.81,497.31 L452.11,496.73 L451.59,496.06 L451.41,495.28 L451.47,494.42 L451.62,493.53 L451.79,492.64 L452.06,491.73 L452.57,490.79 L453.38,489.83 L454.37,488.87 L455.24,487.97 L455.69,487.12 L455.61,486.30 L455.12,485.48 L454.53,484.62 L454.13,483.74 L454.03,482.84 L454.16,481.94 L454.38,481.05 L454.62,480.16 L454.94,479.28 L455.49,478.45 L456.32,477.69 L457.30,477.01 L458.18,476.33 L458.67,475.58 L458.66,474.68 L458.29,473.64 L457.84,472.53 L457.55,471.44 L457.54,470.45 L457.75,469.54 L458.03,468.66 L458.33,467.79 L458.70,466.96 L459.27,466.26 L460.09,465.73 L461.05,465.33 L461.91,464.91 L462.42,464.27 L462.50,463.31 L462.26,462.07 L461.94,460.73 L461.78,459.48 L461.87,458.42 L462.13,457.51 L462.47,456.67 L462.82,455.84 L463.23,455.08 L463.82,454.53 L464.61,454.24 L465.52,454.14 L466.34,453.97 L466.86,453.47 L467.02,452.47 L466.91,451.07 L466.75,449.53 L466.72,448.14 L466.89,447.04 L467.22,446.16 L467.60,445.37 L467.99,444.61 L468.44,443.94 L469.02,443.55 L469.76,443.51 L470.60,443.70 L471.36,443.80 L471.88,443.44 L472.11,442.43 L472.15,440.90 L472.14,439.21 L472.23,437.71 L472.49,436.59 L472.87,435.76 L473.29,435.05 L473.71,434.37 L474.18,433.81 L474.74,433.58 L475.43,433.79 L476.16,434.28 L476.84,434.65 L477.35,434.43 L477.66,433.43 L477.83,431.81 L477.97,430.00 L478.20,428.44 L478.53,427.33 L478.95,426.58 L479.39,425.96 L479.85,425.38 L480.32,424.94 L480.85,424.88 L481.45,425.34 L482.08,426.11 L482.66,426.72 L483.14,426.67 L483.51,425.71 L483.81,424.03 L484.11,422.15 L484.46,420.56 L484.87,419.49 L485.31,418.82 L485.77,418.32 L486.24,417.85 L486.71,417.54 L487.20,417.66 L487.70,418.35 L488.20,419.38 L488.67,420.24 L489.11,420.34 L489.54,419.44 L489.96,417.75 L490.41,415.85 L490.87,414.27 L491.33,413.26 L491.80,412.70 L492.26,412.32 L492.73,411.97 L493.18,411.80 L493.62,412.09 L494.01,413.00 L494.37,414.27 L494.72,415.34 L495.12,415.60 L495.58,414.78 L496.12,413.13 L496.70,411.24 L497.26,409.71 L497.78,408.79 L498.25,408.35 L498.71,408.10 L499.16,407.89 L499.59,407.86 L499.96,408.32 L500.23,409.42 L500.44,410.90 L500.67,412.16 L501.00,412.56 L501.50,411.85 L502.14,410.27 L502.83,408.45 L503.48,407.01 L504.04,406.20 L504.51,405.89 L504.95,405.78 L505.38,405.70 L505.77,405.81 L506.06,406.43 L506.21,407.70 L506.27,409.35 L506.35,410.76 L506.62,411.31 L507.14,410.71 L507.86,409.24 L508.66,407.54 L509.38,406.22 L509.96,405.55 L510.42,405.38 L510.82,405.40 L511.22,405.46 L511.57,405.72 L511.78,406.47 L511.80,407.87 L511.70,409.65 L511.65,411.20 Z" fill="#fff" stroke="#1d1d1d" stroke-width="1.0" />
<path d="M524.35,409.38 L516.20,406.98 M521.34,413.42 L513.19,411.02 M524.21,414.86 L516.05,412.46 M529.09,412.88 L520.94,410.48 M525.99,416.18 L517.83,413.78 M528.46,418.68 L520.30,416.28 M533.07,418.22 L524.92,415.82 M529.96,420.68 L521.80,418.28 M531.97,424.18 L523.82,421.78 M536.21,425.25 L528.05,422.85 M533.15,426.83 L525.00,424.43 M534.66,431.24 L526.51,428.84 M538.41,433.81 L530.26,431.41 M535.49,434.47 L527.34,432.07 M536.46,439.69 L528.31,437.29 M539.63,443.69 L531.48,441.29 M536.92,443.40 L528.77,441.00 M537.32,449.30 L529.17,446.90 M539.84,454.64 L531.69,452.24 M537.40,453.42 L529.25,451.02 M537.23,459.85 L529.08,457.45 M539.03,466.40 L530.88,464.00 M536.93,464.27 L528.77,461.87 M536.19,471.08 L528.03,468.68 M537.23,478.67 L529.07,476.27 M535.51,475.69 L527.35,473.29 M534.22,482.70 L526.06,480.30 M534.47,491.15 L526.31,488.75 M533.18,487.40 L525.02,485.00 M531.36,494.44 L523.21,492.04 M530.82,503.54 L522.66,501.14 M529.99,499.10 L521.84,496.70 M527.70,506.00 L519.55,503.60 M526.38,515.53 L518.22,513.13 M526.03,510.51 L517.88,508.11 M523.32,517.10 L515.17,514.70 M521.25,526.83 L513.09,524.43 M521.39,521.35 L513.24,518.95 M518.33,527.47 L510.17,525.07 M515.56,537.15 L507.41,534.75 M516.19,531.36 L508.03,528.96 M512.85,536.85 L504.69,534.45 M509.45,546.24 L501.30,543.84 M510.55,540.27 L502.40,537.87 M507.02,545.01 L498.86,542.61 M503.07,553.88 L494.92,551.48 M504.61,547.89 L496.46,545.49 M500.97,551.75 L492.82,549.35 M496.58,559.88 L488.43,557.48 M498.53,554.01 L490.38,551.61 M494.87,556.90 L486.71,554.50 M490.14,564.10 L481.98,561.70 M492.44,558.49 L484.29,556.09 M488.85,560.34 L480.70,557.94 M483.90,566.42 L475.75,564.02 M486.51,561.21 L478.35,558.81 M483.08,561.98 L474.92,559.58 M478.02,566.80 L469.87,564.40 M480.86,562.12 L472.71,559.72 M477.68,561.78 L469.53,559.38 M472.65,565.22 L464.49,562.82 M475.66,561.18 L467.50,558.78 M472.79,559.74 L464.64,557.34 M467.91,561.72 L459.76,559.32 M471.01,558.42 L462.86,556.02 M468.54,555.92 L460.39,553.52 M463.93,556.38 L455.77,553.98 M467.04,553.92 L458.89,551.52 M465.03,550.42 L456.88,548.02 M460.79,549.35 L452.64,546.95 M463.85,547.77 L455.70,545.37 M462.34,543.36 L454.19,540.96 M458.59,540.79 L450.43,538.39 M461.51,540.13 L453.36,537.73 M460.54,534.91 L452.39,532.51 M457.37,530.91 L449.21,528.51 M460.08,531.20 L451.93,528.80 M459.68,525.30 L451.52,522.90 M457.16,519.96 L449.00,517.56 M459.60,521.18 L451.44,518.78 M459.77,514.75 L451.61,512.35 M457.97,508.20 L449.81,505.80 M460.07,510.33 L451.92,507.93 M460.81,503.52 L452.66,501.12 M459.77,495.93 L451.62,493.53 M461.49,498.91 L453.34,496.51 M462.78,491.90 L454.63,489.50 M462.53,483.45 L454.38,481.05 M463.82,487.20 L455.67,484.80 M465.64,480.16 L457.48,477.76 M466.18,471.06 L458.03,468.66 M467.01,475.50 L458.86,473.10 M469.30,468.60 L461.14,466.20 M470.62,459.07 L462.47,456.67 M470.97,464.09 L462.82,461.69 M473.68,457.50 L465.53,455.10 M475.75,447.77 L467.60,445.37 M475.61,453.25 L467.46,450.85 M478.67,447.13 L470.52,444.73 M481.44,437.45 L473.29,435.05 M480.81,443.24 L472.66,440.84 M484.15,437.75 L476.00,435.35 M487.55,428.36 L479.39,425.96 M486.45,434.33 L478.30,431.93 M489.98,429.59 L481.83,427.19 M493.93,420.72 L485.77,418.32 M492.39,426.71 L484.23,424.31 M496.03,422.85 L487.87,420.45 M500.42,414.72 L492.26,412.32 M498.47,420.59 L490.32,418.19 M502.13,417.70 L493.98,415.30 M506.86,410.50 L498.71,408.10 M504.56,416.11 L496.40,413.71 M508.15,414.26 L499.99,411.86 M513.10,408.18 L504.95,405.78 M510.49,413.39 L502.34,410.99 M513.92,412.62 L505.77,410.22 M518.98,407.80 L510.82,405.40 M516.14,412.48 L507.98,410.08 M519.32,412.82 L511.17,410.42 " fill="none" stroke="#1d1d1d" stroke-width="0.9" />
<path d="M519.99,414.27 L520.52,413.81 L521.31,412.48 L522.19,410.93 L522.97,409.77 L523.55,409.25 L523.98,409.22 L524.35,409.38 L524.71,409.58 L525.00,409.97 L525.12,410.85 L525.01,412.35 L524.76,414.22 L524.57,415.85 L524.69,416.63 L525.20,416.31 L526.05,415.17 L526.99,413.81 L527.80,412.83 L528.38,412.47 L528.77,412.58 L529.09,412.88 L529.39,413.22 L529.62,413.73 L529.65,414.71 L529.42,416.27 L529.02,418.18 L528.70,419.85 L528.73,420.73 L529.23,420.56 L530.10,419.63 L531.08,418.50 L531.91,417.72 L532.46,417.53 L532.81,417.79 L533.07,418.22 L533.32,418.68 L533.48,419.30 L533.42,420.35 L533.06,421.94 L532.53,423.84 L532.08,425.52 L532.03,426.46 L532.50,426.46 L533.38,425.75 L534.37,424.88 L535.19,424.33 L535.72,424.31 L536.01,424.71 L536.21,425.25 L536.39,425.82 L536.48,426.55 L536.33,427.65 L535.86,429.22 L535.20,431.07 L534.64,432.71 L534.51,433.70 L534.94,433.85 L535.80,433.39 L536.78,432.79 L537.57,432.49 L538.05,432.65 L538.28,433.16 L538.41,433.81 L538.52,434.49 L538.54,435.29 L538.30,436.41 L537.73,437.93 L536.96,439.68 L536.31,441.24 L536.10,442.25 L536.47,442.56 L537.30,442.36 L538.24,442.05 L538.99,441.99 L539.41,442.33 L539.57,442.95 L539.63,443.69 L539.67,444.45 L539.62,445.31 L539.30,446.42 L538.64,447.86 L537.78,449.46 L537.05,450.91 L536.76,451.92 L537.07,452.37 L537.84,452.44 L538.73,452.42 L539.41,452.62 L539.76,453.11 L539.85,453.84 L539.84,454.64 L539.81,455.46 L539.68,456.36 L539.29,457.45 L538.56,458.75 L537.63,460.17 L536.83,461.48 L536.48,462.45 L536.73,463.04 L537.41,463.37 L538.22,463.66 L538.83,464.09 L539.10,464.74 L539.12,465.54 L539.03,466.40 L538.93,467.27 L538.73,468.18 L538.27,469.20 L537.49,470.35 L536.52,471.56 L535.68,472.68 L535.27,473.60 L535.44,474.31 L536.03,474.89 L536.74,475.47 L537.25,476.14 L537.44,476.92 L537.38,477.78 L537.23,478.67 L537.05,479.56 L536.79,480.47 L536.28,481.41 L535.47,482.37 L534.48,483.33 L533.60,484.24 L533.15,485.08 L533.24,485.90 L533.73,486.72 L534.32,487.58 L534.72,488.46 L534.82,489.36 L534.69,490.26 L534.47,491.15 L534.23,492.04 L533.90,492.92 L533.36,493.75 L532.53,494.51 L531.54,495.20 L530.67,495.87 L530.18,496.62 L530.18,497.52 L530.55,498.56 L531.01,499.67 L531.29,500.76 L531.30,501.75 L531.10,502.66 L530.82,503.54 L530.52,504.41 L530.15,505.24 L529.57,505.94 L528.75,506.47 L527.80,506.87 L526.94,507.29 L526.43,507.93 L526.35,508.89 L526.59,510.13 L526.90,511.47 L527.06,512.72 L526.98,513.78 L526.71,514.69 L526.38,515.53 L526.03,516.36 L525.61,517.12 L525.03,517.67 L524.23,517.96 L523.33,518.06 L522.51,518.23 L521.99,518.73 L521.83,519.73 L521.93,521.13 L522.10,522.67 L522.13,524.06 L521.96,525.16 L521.63,526.04 L521.25,526.83 L520.85,527.59 L520.41,528.26 L519.83,528.65 L519.08,528.69 L518.25,528.50 L517.49,528.40 L516.97,528.76 L516.73,529.77 L516.70,531.30 L516.71,532.99 L516.61,534.49 L516.35,535.61 L515.98,536.44 L515.56,537.15 L515.13,537.83 L514.67,538.39 L514.10,538.62 L513.42,538.41 L512.68,537.92 L512.00,537.55 L511.49,537.77 L511.19,538.77 L511.02,540.39 L510.87,542.20 L510.65,543.76 L510.31,544.87 L509.90,545.62 L509.45,546.24 L509.00,546.82 L508.53,547.27 L507.99,547.32 L507.39,546.86 L506.77,546.09 L506.18,545.48 L505.70,545.53 L505.33,546.49 L505.03,548.17 L504.73,550.05 L504.39,551.64 L503.98,552.71 L503.53,553.38 L503.07,553.88 L502.61,554.35 L502.14,554.66 L501.65,554.54 L501.15,553.85 L500.65,552.82 L500.17,551.96 L499.73,551.86 L499.31,552.76 L498.88,554.45 L498.44,556.35 L497.98,557.93 L497.51,558.94 L497.05,559.50 L496.58,559.88 L496.12,560.23 L495.66,560.40 L495.23,560.11 L494.83,559.20 L494.48,557.93 L494.12,556.86 L493.73,556.60 L493.26,557.42 L492.72,559.07 L492.15,560.96 L491.59,562.49 L491.07,563.41 L490.59,563.85 L490.14,564.10 L489.69,564.31 L489.26,564.34 L488.89,563.88 L488.61,562.78 L488.40,561.30 L488.18,560.04 L487.85,559.64 L487.35,560.35 L486.71,561.93 L486.01,563.75 L485.36,565.19 L484.81,566.00 L484.34,566.31 L483.90,566.42 L483.47,566.50 L483.08,566.39 L482.79,565.77 L482.63,564.50 L482.58,562.85 L482.49,561.44 L482.23,560.89 L481.71,561.49 L480.98,562.96 L480.18,564.66 L479.46,565.98 L478.89,566.65 L478.43,566.82 L478.02,566.80 L477.62,566.74 L477.28,566.48 L477.07,565.73 L477.05,564.33 L477.15,562.55 L477.20,561.00 L477.01,560.33 L476.48,560.79 L475.69,562.12 L474.81,563.67 L474.03,564.83 L473.45,565.35 L473.02,565.38 L472.65,565.22 L472.29,565.02 L472.00,564.63 L471.88,563.75 L471.99,562.25 L472.24,560.38 L472.43,558.75 L472.31,557.97 L471.80,558.29 L470.95,559.43 L470.01,560.79 L469.20,561.77 L468.62,562.13 L468.23,562.02 L467.91,561.72 L467.61,561.38 L467.38,560.87 L467.35,559.89 L467.58,558.33 L467.98,556.42 L468.30,554.75 L468.27,553.87 L467.77,554.04 L466.90,554.97 L465.92,556.10 L465.09,556.88 L464.54,557.07 L464.19,556.81 L463.93,556.38 L463.68,555.92 L463.52,555.30 L463.58,554.25 L463.94,552.66 L464.47,550.76 L464.92,549.08 L464.97,548.14 L464.50,548.14 L463.62,548.85 L462.63,549.72 L461.81,550.27 L461.28,550.29 L460.99,549.89 L460.79,549.35 L460.61,548.78 L460.52,548.05 L460.67,546.95 L461.14,545.38 L461.80,543.53 L462.36,541.89 L462.49,540.90 L462.06,540.75 L461.20,541.21 L460.22,541.81 L459.43,542.11 L458.95,541.95 L458.72,541.44 L458.59,540.79 L458.48,540.11 L458.46,539.31 L458.70,538.19 L459.27,536.67 L460.04,534.92 L460.69,533.36 L460.90,532.35 L460.53,532.04 L459.70,532.24 L458.76,532.55 L458.01,532.61 L457.59,532.27 L457.43,531.65 L457.37,530.91 L457.33,530.15 L457.38,529.29 L457.70,528.18 L458.36,526.74 L459.22,525.14 L459.95,523.69 L460.24,522.68 L459.93,522.23 L459.16,522.16 L458.27,522.18 L457.59,521.98 L457.24,521.49 L457.15,520.76 L457.16,519.96 L457.19,519.14 L457.32,518.24 L457.71,517.15 L458.44,515.85 L459.37,514.43 L460.17,513.12 L460.52,512.15 L460.27,511.56 L459.59,511.23 L458.78,510.94 L458.17,510.51 L457.90,509.86 L457.88,509.06 L457.97,508.20 L458.07,507.33 L458.27,506.42 L458.73,505.40 L459.51,504.25 L460.48,503.04 L461.32,501.92 L461.73,501.00 L461.56,500.29 L460.97,499.71 L460.26,499.13 L459.75,498.46 L459.56,497.68 L459.62,496.82 L459.77,495.93 L459.95,495.04 L460.21,494.13 L460.72,493.19 L461.53,492.23 L462.52,491.27 L463.40,490.36 L463.85,489.52 L463.76,488.70 L463.27,487.88 L462.68,487.02 L462.28,486.14 L462.18,485.24 L462.31,484.34 L462.53,483.45 L462.77,482.56 L463.10,481.68 L463.64,480.85 L464.47,480.09 L465.46,479.40 L466.33,478.73 L466.82,477.98 L466.82,477.08 L466.45,476.04 L465.99,474.93 L465.71,473.84 L465.70,472.85 L465.90,471.94 L466.18,471.06 L466.48,470.19 L466.85,469.36 L467.43,468.66 L468.25,468.13 L469.20,467.73 L470.06,467.31 L470.57,466.67 L470.65,465.71 L470.41,464.47 L470.10,463.13 L469.94,461.88 L470.02,460.82 L470.29,459.91 L470.62,459.07 L470.97,458.24 L471.39,457.48 L471.97,456.93 L472.77,456.64 L473.67,456.54 L474.49,456.37 L475.01,455.87 L475.17,454.87 L475.07,453.47 L474.90,451.93 L474.87,450.54 L475.04,449.44 L475.37,448.56 L475.75,447.77 L476.15,447.01 L476.59,446.34 L477.17,445.95 L477.92,445.91 L478.75,446.10 L479.51,446.20 L480.03,445.84 L480.27,444.83 L480.30,443.30 L480.29,441.61 L480.39,440.11 L480.65,438.99 L481.02,438.16 L481.44,437.45 L481.87,436.77 L482.33,436.21 L482.90,435.98 L483.58,436.19 L484.32,436.68 L485.00,437.05 L485.51,436.83 L485.81,435.83 L485.98,434.21 L486.13,432.40 L486.35,430.84 L486.69,429.73 L487.10,428.98 L487.55,428.36 L488.00,427.78 L488.47,427.33 L489.01,427.28 L489.61,427.74 L490.23,428.51 L490.82,429.12 L491.30,429.07 L491.67,428.11 L491.97,426.43 L492.27,424.55 L492.61,422.96 L493.02,421.89 L493.47,421.22 L493.93,420.72 L494.39,420.25 L494.86,419.94 L495.35,420.06 L495.85,420.75 L496.35,421.78 L496.83,422.64 L497.27,422.74 L497.69,421.84 L498.12,420.15 L498.56,418.25 L499.02,416.67 L499.49,415.66 L499.95,415.10 L500.42,414.72 L500.88,414.37 L501.34,414.20 L501.77,414.49 L502.17,415.40 L502.52,416.67 L502.88,417.74 L503.27,418.00 L503.74,417.18 L504.28,415.53 L504.85,413.64 L505.41,412.11 L505.93,411.19 L506.41,410.75 L506.86,410.50 L507.31,410.29 L507.74,410.26 L508.11,410.72 L508.39,411.82 L508.60,413.30 L508.82,414.56 L509.15,414.96 L509.65,414.25 L510.29,412.67 L510.99,410.85 L511.64,409.41 L512.19,408.60 L512.66,408.29 L513.10,408.18 L513.53,408.10 L513.92,408.21 L514.21,408.83 L514.37,410.10 L514.42,411.75 L514.51,413.16 L514.77,413.71 L515.29,413.11 L516.02,411.64 L516.82,409.94 L517.54,408.62 L518.11,407.95 L518.57,407.78 L518.98,407.80 L519.38,407.86 L519.72,408.12 L519.93,408.87 L519.95,410.27 L519.85,412.05 L519.80,413.60 Z" fill="#fff" stroke="#1d1d1d" stroke-width="1.1" />
<clipPath id="hc0"><ellipse cx="511.3" cy="439.0" rx="5.2" ry="11.3" transform="rotate(15.0 511.3 439.0)"/></clipPath>
<ellipse cx="511.30" cy="439.00" rx="5.20" ry="11.30" transform="rotate(15.00 511.30 439.00)" fill="#fff" stroke="#1d1d1d" stroke-width="1.3" />
<g clip-path="url(#hc0)">
<ellipse cx="513.90" cy="440.20" rx="5.20" ry="11.30" transform="rotate(15.00 513.90 440.20)" fill="none" stroke="#1d1d1d" stroke-width="0.95" />
</g>
<path d="M508.7,444.0 L514.9,442.0" fill="none" stroke="#1d1d1d" stroke-width="0.85" />
<clipPath id="hc1"><ellipse cx="527.0" cy="459.2" rx="5.2" ry="11.3" transform="rotate(15.0 527.0 459.2)"/></clipPath>
<ellipse cx="527.00" cy="459.20" rx="5.20" ry="11.30" transform="rotate(15.00 527.00 459.20)" fill="#fff" stroke="#1d1d1d" stroke-width="1.3" />
<g clip-path="url(#hc1)">
<ellipse cx="529.60" cy="460.40" rx="5.20" ry="11.30" transform="rotate(15.00 529.60 460.40)" fill="none" stroke="#1d1d1d" stroke-width="0.95" />
</g>
<path d="M524.4,464.2 L530.6,462.2" fill="none" stroke="#1d1d1d" stroke-width="0.85" />
<clipPath id="hc2"><ellipse cx="484.2" cy="470.1" rx="5.2" ry="11.3" transform="rotate(15.0 484.2 470.1)"/></clipPath>
<ellipse cx="484.20" cy="470.10" rx="5.20" ry="11.30" transform="rotate(15.00 484.20 470.10)" fill="#fff" stroke="#1d1d1d" stroke-width="1.3" />
<g clip-path="url(#hc2)">
<ellipse cx="486.80" cy="471.30" rx="5.20" ry="11.30" transform="rotate(15.00 486.80 471.30)" fill="none" stroke="#1d1d1d" stroke-width="0.95" />
</g>
<path d="M481.6,475.1 L487.8,473.1" fill="none" stroke="#1d1d1d" stroke-width="0.85" />
<clipPath id="hc3"><ellipse cx="520.2" cy="503.4" rx="5.2" ry="11.3" transform="rotate(15.0 520.2 503.4)"/></clipPath>
<ellipse cx="520.20" cy="503.40" rx="5.20" ry="11.30" transform="rotate(15.00 520.20 503.40)" fill="#fff" stroke="#1d1d1d" stroke-width="1.3" />
<g clip-path="url(#hc3)">
<ellipse cx="522.80" cy="504.60" rx="5.20" ry="11.30" transform="rotate(15.00 522.80 504.60)" fill="none" stroke="#1d1d1d" stroke-width="0.95" />
</g>
<path d="M517.6,508.4 L523.8,506.4" fill="none" stroke="#1d1d1d" stroke-width="0.85" />
<clipPath id="hc4"><ellipse cx="476.9" cy="519.6" rx="5.2" ry="11.3" transform="rotate(15.0 476.9 519.6)"/></clipPath>
<ellipse cx="476.90" cy="519.60" rx="5.20" ry="11.30" transform="rotate(15.00 476.90 519.60)" fill="#fff" stroke="#1d1d1d" stroke-width="1.3" />
<g clip-path="url(#hc4)">
<ellipse cx="479.50" cy="520.80" rx="5.20" ry="11.30" transform="rotate(15.00 479.50 520.80)" fill="none" stroke="#1d1d1d" stroke-width="0.95" />
</g>
<path d="M474.3,524.6 L480.5,522.6" fill="none" stroke="#1d1d1d" stroke-width="0.85" />
<clipPath id="hc5"><ellipse cx="496.0" cy="534.4" rx="5.2" ry="11.3" transform="rotate(15.0 496.0 534.4)"/></clipPath>
<ellipse cx="496.00" cy="534.40" rx="5.20" ry="11.30" transform="rotate(15.00 496.00 534.40)" fill="#fff" stroke="#1d1d1d" stroke-width="1.3" />
<g clip-path="url(#hc5)">
<ellipse cx="498.60" cy="535.60" rx="5.20" ry="11.30" transform="rotate(15.00 498.60 535.60)" fill="none" stroke="#1d1d1d" stroke-width="0.95" />
</g>
<path d="M493.4,539.4 L499.6,537.4" fill="none" stroke="#1d1d1d" stroke-width="0.85" />
<clipPath id="hcc"><ellipse cx="503.3" cy="487.8" rx="5.6" ry="11.8" transform="rotate(15.0 503.3 487.8)"/></clipPath>
<ellipse cx="503.30" cy="487.80" rx="5.60" ry="11.80" transform="rotate(15.00 503.30 487.80)" fill="#fff" stroke="#1d1d1d" stroke-width="1.5" />
<g clip-path="url(#hcc)">
<ellipse cx="505.90" cy="489.00" rx="5.60" ry="11.80" transform="rotate(15.00 505.90 489.00)" fill="none" stroke="#1d1d1d" stroke-width="0.95" />
</g>
<path d="M500.5,493.2 L507.1,491.0" fill="none" stroke="#1d1d1d" stroke-width="0.85" />
<ellipse cx="512.10" cy="467.00" rx="3.50" ry="6.80" transform="rotate(15.00 512.10 467.00)" fill="#fff" stroke="#1d1d1d" stroke-width="1.3" />
<path d="M509.1,466.2 L515.3,468.4" fill="none" stroke="#1d1d1d" stroke-width="0.85" />
<ellipse cx="494.60" cy="509.80" rx="3.50" ry="6.80" transform="rotate(15.00 494.60 509.80)" fill="#fff" stroke="#1d1d1d" stroke-width="1.3" />
<path d="M491.6,509.0 L497.8,511.2" fill="none" stroke="#1d1d1d" stroke-width="0.85" />
<g transform="translate(340 130) scale(0.124031)">
<path d="M95,555 C150,520 215,430 248,350 C266,300 272,250 268,170 L400,240 L432,300 C415,330 405,400 385,500 L355,580 L60,600 Z" fill="#fff" stroke="#1d1d1d" stroke-width="0" vector-effect="non-scaling-stroke"/>
<path d="M432,298 C412,330 404,420 382,515 L358,572" fill="none" stroke="#1d1d1d" stroke-width="1.3" vector-effect="non-scaling-stroke"/>
<path d="M398,306 C372,330 335,415 296,495 C284,520 282,540 300,560" fill="none" stroke="#1d1d1d" stroke-width="1.3" vector-effect="non-scaling-stroke"/>
<path d="M372,322 C345,380 310,450 290,500" fill="none" stroke="#1d1d1d" stroke-width="1.0" vector-effect="non-scaling-stroke"/>
<path d="M95,555 C150,520 215,430 248,350 C266,300 272,250 268,170" fill="none" stroke="#1d1d1d" stroke-width="1.3" vector-effect="non-scaling-stroke"/>
<path d="M300,245 C298,300 270,390 215,465 C180,510 140,545 100,562" fill="none" stroke="#1d1d1d" stroke-width="1.0" vector-effect="non-scaling-stroke"/>
<path d="M378,262 C360,330 320,415 262,490 C235,520 215,535 200,545" fill="none" stroke="#1d1d1d" stroke-width="1.0" vector-effect="non-scaling-stroke"/>
<path d="M268,314 L362,318" fill="none" stroke="#1d1d1d" stroke-width="1.0" vector-effect="non-scaling-stroke"/>
<path d="M362,318 C375,300 395,290 430,282 C440,284 436,292 420,300 C405,306 392,312 384,320" fill="none" stroke="#1d1d1d" stroke-width="1.0" vector-effect="non-scaling-stroke"/>
<path d="M372,42 C420,38 480,55 515,95 C545,135 548,190 525,235 C505,275 465,298 430,300 L395,305 L340,250 Z" fill="#fff" stroke="#1d1d1d" stroke-width="1.3" vector-effect="non-scaling-stroke"/>
<path d="M440,52 C462,90 470,150 452,202" fill="none" stroke="#1d1d1d" stroke-width="1.0" vector-effect="non-scaling-stroke"/>
<path d="M412,60 C432,95 440,150 425,205" fill="none" stroke="#1d1d1d" stroke-width="1.0" vector-effect="non-scaling-stroke"/>
<path d="M466,165 L540,182" fill="none" stroke="#1d1d1d" stroke-width="1.0" vector-effect="non-scaling-stroke"/>
<path d="M432,120 L466,126 M428,170 L462,176" fill="none" stroke="#1d1d1d" stroke-width="0.9" vector-effect="non-scaling-stroke"/>
<ellipse cx="343.00" cy="146.00" rx="72.00" ry="103.00" transform="rotate(8.00 343.00 146.00)" fill="#fff" stroke="#1d1d1d" stroke-width="0" vector-effect="non-scaling-stroke"/>
<path d="M274.1,188.3 A72,103 8 1 1 397.5,205.7" fill="none" stroke="#1d1d1d" stroke-width="1.3" vector-effect="non-scaling-stroke"/>
<ellipse cx="348.00" cy="150.00" rx="53.00" ry="84.00" transform="rotate(8.00 348.00 150.00)" fill="none" stroke="#1d1d1d" stroke-width="1.0" vector-effect="non-scaling-stroke"/>
<ellipse cx="352.00" cy="152.00" rx="37.00" ry="64.00" transform="rotate(8.00 352.00 152.00)" fill="#fff" stroke="#1d1d1d" stroke-width="1.3" vector-effect="non-scaling-stroke"/>
<path d="M322,200 C335,222 360,222 372,205" fill="none" stroke="#1d1d1d" stroke-width="1.0" vector-effect="non-scaling-stroke"/>
<path d="M318,62 L330,100 M282,205 L312,196" fill="none" stroke="#1d1d1d" stroke-width="0.9" vector-effect="non-scaling-stroke"/>
</g>
<g transform="translate(308 222) scale(0.116279)">
<path d="M120,250 C150,225 185,180 205,135 L225,125 L335,150 L300,600 L250,560 C200,540 140,480 105,432 C85,425 62,395 62,350 C62,310 85,265 120,250 Z" fill="#fff" stroke="#1d1d1d" stroke-width="1.3" vector-effect="non-scaling-stroke"/>
<path d="M136,255 C115,290 105,340 108,385 C110,410 118,430 128,442" fill="none" stroke="#1d1d1d" stroke-width="1.0" vector-effect="non-scaling-stroke"/>
<path d="M215,132 C175,190 135,270 122,340 C115,390 125,440 180,510" fill="none" stroke="#1d1d1d" stroke-width="1.0" vector-effect="non-scaling-stroke"/>
<path d="M205,135 C200,110 195,85 210,40" fill="none" stroke="#1d1d1d" stroke-width="1.3" vector-effect="non-scaling-stroke"/>
<path d="M335,150 C335,200 315,250 285,290 C250,330 225,380 220,440 C218,500 235,545 275,580 C300,600 340,605 380,590 C440,570 500,510 540,420 C570,350 590,280 600,225 L600,60 L330,60 Z" fill="#fff" stroke="#1d1d1d" stroke-width="1.3" vector-effect="non-scaling-stroke"/>
<path d="M225,126 C260,122 305,135 335,150" fill="none" stroke="#1d1d1d" stroke-width="1.0" vector-effect="non-scaling-stroke"/>
<path d="M365,100 C368,200 345,260 310,315 C280,360 262,410 263,460 C264,510 285,550 330,585" fill="none" stroke="#1d1d1d" stroke-width="1.0" vector-effect="non-scaling-stroke"/>
<path d="M388,130 C392,220 365,285 335,340 C312,385 300,420 300,450" fill="none" stroke="#1d1d1d" stroke-width="1.0" vector-effect="non-scaling-stroke"/>
<path d="M430,185 C470,215 540,215 600,190" fill="none" stroke="#1d1d1d" stroke-width="1.0" vector-effect="non-scaling-stroke"/>
<ellipse cx="438.00" cy="425.00" rx="90.00" ry="138.00" transform="rotate(20.00 438.00 425.00)" fill="#fff" stroke="#1d1d1d" stroke-width="1.3" vector-effect="non-scaling-stroke"/>
<path d="M372,500 C390,540 440,560 480,520" fill="none" stroke="#1d1d1d" stroke-width="0.9" vector-effect="non-scaling-stroke"/>
<ellipse cx="438.00" cy="420.00" rx="58.00" ry="93.00" transform="rotate(20.00 438.00 420.00)" fill="#fff" stroke="#1d1d1d" stroke-width="1.3" vector-effect="non-scaling-stroke"/>
<ellipse cx="440.00" cy="418.00" rx="40.00" ry="68.00" transform="rotate(20.00 440.00 418.00)" fill="#fff" stroke="#1d1d1d" stroke-width="1.3" vector-effect="non-scaling-stroke"/>
<path d="M405,455 C415,485 445,490 465,470" fill="none" stroke="#1d1d1d" stroke-width="0.9" vector-effect="non-scaling-stroke"/>
</g>
<g transform="translate(305 190) scale(0.170648)">
<path d="M430,58 L280,38 C240,34 200,50 172,85 C148,118 138,165 148,212 L205,240 L262,258 L330,300 L420,330 Z" fill="#fff" stroke="#1d1d1d" stroke-width="1.3" vector-effect="non-scaling-stroke"/>
<path d="M228,40 C180,60 150,110 142,160 C140,185 145,205 155,216" fill="none" stroke="#1d1d1d" stroke-width="1.0" vector-effect="non-scaling-stroke"/>
<path d="M272,44 C232,80 205,140 205,200 C205,220 210,235 216,242" fill="none" stroke="#1d1d1d" stroke-width="1.3" vector-effect="non-scaling-stroke"/>
<path d="M145,140 L205,156 L322,186" fill="none" stroke="#1d1d1d" stroke-width="1.0" vector-effect="non-scaling-stroke"/>
<path d="M148,162 L205,177 L320,210" fill="none" stroke="#1d1d1d" stroke-width="1.0" vector-effect="non-scaling-stroke"/>
<path d="M160,222 L160,262 M205,240 L205,262" fill="none" stroke="#1d1d1d" stroke-width="1.0" vector-effect="non-scaling-stroke"/>
<ellipse cx="410.00" cy="194.00" rx="88.00" ry="136.00" transform="rotate(14.00 410.00 194.00)" fill="#fff" stroke="#1d1d1d" stroke-width="1.3" vector-effect="non-scaling-stroke"/>
<ellipse cx="414.00" cy="197.00" rx="62.00" ry="96.00" transform="rotate(14.00 414.00 197.00)" fill="#fff" stroke="#1d1d1d" stroke-width="1.3" vector-effect="non-scaling-stroke"/>
<ellipse cx="418.00" cy="199.00" rx="56.00" ry="90.00" transform="rotate(14.00 418.00 199.00)" fill="none" stroke="#1d1d1d" stroke-width="1.0" vector-effect="non-scaling-stroke"/>
<path d="M360,185 L470,212" fill="none" stroke="#1d1d1d" stroke-width="1.0" vector-effect="non-scaling-stroke"/>
<path d="M440,225 C450,232 462,232 470,225" fill="none" stroke="#1d1d1d" stroke-width="0.9" vector-effect="non-scaling-stroke"/>
</g>
<g transform="translate(170 470) scale(0.170532)">
<path d="M165,215 C200,260 270,320 332,362 C326,400 340,455 385,495 C410,512 435,518 445,514 L522,470 C540,455 548,440 545,425 C535,395 500,355 470,330 C430,300 395,250 372,200 C355,165 345,140 340,120 L150,120 Z" fill="#fff" stroke="#1d1d1d" stroke-width="1.3" vector-effect="non-scaling-stroke"/>
<path d="M352,140 C368,190 410,270 455,315 C480,338 510,360 530,392" fill="none" stroke="#1d1d1d" stroke-width="1.0" vector-effect="non-scaling-stroke"/>
<path d="M318,185 C335,230 370,290 410,330" fill="none" stroke="#1d1d1d" stroke-width="1.0" vector-effect="non-scaling-stroke"/>
<path d="M290,200 C310,250 345,300 385,338" fill="none" stroke="#1d1d1d" stroke-width="1.0" vector-effect="non-scaling-stroke"/>
<path d="M300,225 L316,230" fill="none" stroke="#1d1d1d" stroke-width="0.8" vector-effect="non-scaling-stroke"/>
<path d="M306,236 L322,241" fill="none" stroke="#1d1d1d" stroke-width="0.8" vector-effect="non-scaling-stroke"/>
<path d="M312,247 L328,252" fill="none" stroke="#1d1d1d" stroke-width="0.8" vector-effect="non-scaling-stroke"/>
<path d="M318,258 L334,263" fill="none" stroke="#1d1d1d" stroke-width="0.8" vector-effect="non-scaling-stroke"/>
<path d="M324,269 L340,274" fill="none" stroke="#1d1d1d" stroke-width="0.8" vector-effect="non-scaling-stroke"/>
<path d="M330,280 L346,285" fill="none" stroke="#1d1d1d" stroke-width="0.8" vector-effect="non-scaling-stroke"/>
<path d="M336,291 L352,296" fill="none" stroke="#1d1d1d" stroke-width="0.8" vector-effect="non-scaling-stroke"/>
<path d="M342,302 L358,307" fill="none" stroke="#1d1d1d" stroke-width="0.8" vector-effect="non-scaling-stroke"/>
<path d="M348,313 L364,318" fill="none" stroke="#1d1d1d" stroke-width="0.8" vector-effect="non-scaling-stroke"/>
<path d="M175,225 C215,262 275,312 330,350" fill="none" stroke="#1d1d1d" stroke-width="0.9" vector-effect="non-scaling-stroke"/>
<path d="M330,350 L372,388 L380,350" fill="none" stroke="#1d1d1d" stroke-width="1.0" vector-effect="non-scaling-stroke"/>
<path d="M395,492 L452,452 L540,426" fill="none" stroke="#1d1d1d" stroke-width="1.0" vector-effect="non-scaling-stroke"/>
<path d="M452,452 L440,514" fill="none" stroke="#1d1d1d" stroke-width="0.9" vector-effect="non-scaling-stroke"/>
<path d="M345,365 C335,395 338,440 372,482" fill="none" stroke="#1d1d1d" stroke-width="1.0" vector-effect="non-scaling-stroke"/>
<ellipse cx="477.00" cy="378.00" rx="50.00" ry="66.00" transform="rotate(-38.00 477.00 378.00)" fill="#fff" stroke="#1d1d1d" stroke-width="1.3" vector-effect="non-scaling-stroke"/>
<ellipse cx="476.00" cy="374.00" rx="30.00" ry="44.00" transform="rotate(-38.00 476.00 374.00)" fill="#fff" stroke="#1d1d1d" stroke-width="1.3" vector-effect="non-scaling-stroke"/>
<path d="M452,392 C462,410 488,412 500,398" fill="none" stroke="#1d1d1d" stroke-width="0.9" vector-effect="non-scaling-stroke"/>
<path d="M455,345 L462,392 M462,392 L498,368" fill="none" stroke="#1d1d1d" stroke-width="0.8" vector-effect="non-scaling-stroke"/>
<path d="M430,425 C455,450 500,452 530,425" fill="none" stroke="#1d1d1d" stroke-width="0.9" vector-effect="non-scaling-stroke"/>
</g>
<g transform="translate(140 395) scale(0.170648)">
<path d="M398,215 C430,245 470,270 500,310 C530,350 548,420 548,500 L540,600 L420,600 L330,330 Z" fill="#fff" stroke="#1d1d1d" stroke-width="1.3" vector-effect="non-scaling-stroke"/>
<path d="M420,250 C455,262 495,300 520,345" fill="none" stroke="#1d1d1d" stroke-width="1.0" vector-effect="non-scaling-stroke"/>
<path d="M470,300 C478,330 470,350 455,365 M455,365 C480,372 500,360 510,340" fill="none" stroke="#1d1d1d" stroke-width="1.0" vector-effect="non-scaling-stroke"/>
<path d="M385,290 L440,285 L470,330 L430,350 Z" fill="none" stroke="#1d1d1d" stroke-width="0.9" vector-effect="non-scaling-stroke"/>
<path d="M500,380 C510,430 505,480 490,520 M525,400 C532,450 528,500 512,545" fill="none" stroke="#1d1d1d" stroke-width="0.9" vector-effect="non-scaling-stroke"/>
<path d="M350,300 C375,335 420,345 450,362 C470,372 480,390 478,410" fill="none" stroke="#1d1d1d" stroke-width="1.0" vector-effect="non-scaling-stroke"/>
<path d="M330,350 C360,372 400,380 432,398" fill="none" stroke="#1d1d1d" stroke-width="0.9" vector-effect="non-scaling-stroke"/>
<path d="M70,178 C78,130 120,75 185,48 C240,30 305,45 350,90 C385,125 400,175 400,240 L385,300 L100,300 Z" fill="#fff" stroke="#1d1d1d" stroke-width="1.3" vector-effect="non-scaling-stroke"/>
<path d="M175,52 C168,70 165,85 165,98" fill="none" stroke="#1d1d1d" stroke-width="0.9" vector-effect="non-scaling-stroke"/>
<path d="M335,78 C350,110 355,130 352,150" fill="none" stroke="#1d1d1d" stroke-width="0.9" vector-effect="non-scaling-stroke"/>
<path d="M75,262 C66,225 75,165 112,130 C150,100 215,96 262,118 C310,142 345,190 365,240 C375,270 390,300 430,345 L400,420 L210,500 L190,480 Z" fill="#fff" stroke="#1d1d1d" stroke-width="1.7" vector-effect="non-scaling-stroke"/>
<path d="M88,255 C80,215 95,165 130,138 C165,115 220,115 262,136 C300,158 325,195 342,235 C352,265 365,300 395,335" fill="none" stroke="#1d1d1d" stroke-width="1.0" vector-effect="non-scaling-stroke"/>
<path d="M100,250 C95,215 110,175 140,152 C170,132 215,132 250,150 C285,170 305,200 320,235 C330,265 340,295 360,325" fill="none" stroke="#1d1d1d" stroke-width="1.0" vector-effect="non-scaling-stroke"/>
<ellipse cx="204.00" cy="264.00" rx="96.00" ry="85.00" transform="rotate(15.00 204.00 264.00)" fill="none" stroke="#1d1d1d" stroke-width="1.2" vector-effect="non-scaling-stroke"/>
<path d="M170,345 L193,358 L198,350" fill="none" stroke="#1d1d1d" stroke-width="1.2" vector-effect="non-scaling-stroke"/>
<path d="M125,222 C140,195 180,183 210,187 C245,192 275,215 286,247" fill="none" stroke="#1d1d1d" stroke-width="1.0" vector-effect="non-scaling-stroke"/>
<ellipse cx="206.60" cy="268.60" rx="60.00" ry="54.50" transform="rotate(15.00 206.60 268.60)" fill="#fff" stroke="#1d1d1d" stroke-width="1.3" vector-effect="non-scaling-stroke"/>
<ellipse cx="207.00" cy="269.00" rx="49.00" ry="44.00" transform="rotate(15.00 207.00 269.00)" fill="#fff" stroke="#1d1d1d" stroke-width="1.3" vector-effect="non-scaling-stroke"/>
<path d="M177,224 L168,277 M247,246 L231,293" fill="none" stroke="#1d1d1d" stroke-width="0.9" vector-effect="non-scaling-stroke"/>
<path d="M75,262 C100,320 150,410 198,488" fill="none" stroke="#1d1d1d" stroke-width="1.5" vector-effect="non-scaling-stroke"/>
<path d="M98,300 C125,350 165,420 200,470" fill="none" stroke="#1d1d1d" stroke-width="0.9" vector-effect="non-scaling-stroke"/>
<path d="M350,365 C330,372 300,372 270,380" fill="none" stroke="#1d1d1d" stroke-width="0.9" vector-effect="non-scaling-stroke"/>
</g>
<ellipse cx="199.40" cy="479.60" rx="27.50" ry="21.00" transform="rotate(30.00 199.40 479.60)" fill="#fff" stroke="#1d1d1d" stroke-width="1.3" />
<ellipse cx="201.60" cy="484.00" rx="27.50" ry="21.00" transform="rotate(30.00 201.60 484.00)" fill="#fff" stroke="#1d1d1d" stroke-width="1.3" />
<ellipse cx="201.40" cy="483.90" rx="18.20" ry="13.30" transform="rotate(30.00 201.40 483.90)" fill="#fff" stroke="#1d1d1d" stroke-width="1.3" />
<ellipse cx="202.40" cy="484.90" rx="16.60" ry="11.80" transform="rotate(30.00 202.40 484.90)" fill="none" stroke="#1d1d1d" stroke-width="1.0" />
<path d="M187.4,480.6 L192.0,494.6 M191.6,472.6 L187.6,486.6" fill="none" stroke="#1d1d1d" stroke-width="0.9" />
<path d="M195.4,471.6 L190.6,489.6" fill="none" stroke="#1d1d1d" stroke-width="0.9" />
<path d="M191.6,501.6 C196,503.0 199,501.6 203.6,504.6" fill="none" stroke="#1d1d1d" stroke-width="0.9" />
<g transform="translate(110 270) scale(0.162787)">
<path d="M215,60 C150,64 80,125 58,205 C44,265 55,320 80,345 C110,375 150,395 200,415 L255,425 L330,300 L468,138 C450,112 400,85 330,68 L255,62 Z" fill="#fff" stroke="#1d1d1d" stroke-width="1.3" vector-effect="non-scaling-stroke"/>
<path d="M251,67 C215,80 180,100 164,117 C135,150 112,185 104,204 C92,232 82,255 77,271" fill="none" stroke="#1d1d1d" stroke-width="1.0" vector-effect="non-scaling-stroke"/>
<path d="M360,90 C320,92 270,108 251,117 C225,133 200,148 184,157" fill="none" stroke="#1d1d1d" stroke-width="1.0" vector-effect="non-scaling-stroke"/>
<path d="M77,271 L117,294 L131,331 M87,294 L117,311" fill="none" stroke="#1d1d1d" stroke-width="1.0" vector-effect="non-scaling-stroke"/>
<path d="M131,331 C140,368 165,395 198,412" fill="none" stroke="#1d1d1d" stroke-width="1.0" vector-effect="non-scaling-stroke"/>
<path d="M184,157 L241,188 L232,222 L218,250 M184,157 C170,190 150,240 138,290 L134,330" fill="none" stroke="#1d1d1d" stroke-width="1.0" vector-effect="non-scaling-stroke"/>
<path d="M187,161 L244,191 L247,181 L197,154 Z" fill="#999" stroke="#1d1d1d" stroke-width="0.8" vector-effect="non-scaling-stroke"/>
<path d="M178,228 C186,220 202,224 210,232 L205,262 C195,268 180,264 172,255 Z" fill="none" stroke="#1d1d1d" stroke-width="1.0" vector-effect="non-scaling-stroke"/>
<ellipse cx="176" cy="342" rx="30" ry="52" transform="rotate(8 176 342)" fill="#111" stroke="#1d1d1d" stroke-width="1" vector-effect="non-scaling-stroke"/>
<ellipse cx="202" cy="352" rx="10" ry="38" transform="rotate(8 202 352)" fill="#fff" stroke="none"/>
<path d="M208,300 C224,330 226,380 212,410 M232,372 C245,385 252,405 250,420" fill="none" stroke="#1d1d1d" stroke-width="1.0" vector-effect="non-scaling-stroke"/>
<path d="M345,98 C290,118 240,190 222,255 C210,315 228,385 265,430 C300,460 345,482 400,500 L470,520 L500,575 L600,400 L560,190 L520,175 L480,150 C440,112 400,98 345,98 Z" fill="#fff" stroke="#1d1d1d" stroke-width="1.3" vector-effect="non-scaling-stroke"/>
<path d="M258,130 C290,108 325,98 345,98" fill="none" stroke="#1d1d1d" stroke-width="1.0" vector-effect="non-scaling-stroke"/>
<path d="M444,131 C410,140 375,152 351,164 C325,185 305,205 297,217 C285,240 280,255 280,264 C276,290 277,310 279,324 C282,350 288,365 294,377 C305,400 315,412 324,424 C335,440 345,450 351,457" fill="none" stroke="#1d1d1d" stroke-width="1.3" vector-effect="non-scaling-stroke"/>
<path d="M520,180 C460,200 425,250 405,320 C398,390 420,450 470,520" fill="none" stroke="#1d1d1d" stroke-width="1.3" vector-effect="non-scaling-stroke"/>
<path d="M420,500 L470,545 L500,575 M432,530 L490,562" fill="none" stroke="#1d1d1d" stroke-width="1.0" vector-effect="non-scaling-stroke"/>
<path d="M461,174 C430,182 400,192 377,204 C355,220 335,238 324,251 C312,268 305,285 304,297" fill="none" stroke="#1d1d1d" stroke-width="1.0" vector-effect="non-scaling-stroke"/>
<path d="M305,292 C325,275 380,268 420,262 C405,290 392,320 385,348 C382,362 382,372 380,378 C362,376 340,372 328,352 C315,335 308,312 305,292 Z" fill="#fff" stroke="#1d1d1d" stroke-width="1.3" vector-effect="non-scaling-stroke"/>
<ellipse cx="378.00" cy="328.00" rx="13.00" ry="17.00" transform="rotate(10.00 378.00 328.00)" fill="#fff" stroke="#1d1d1d" stroke-width="1.4" vector-effect="non-scaling-stroke"/>
<path d="M350,380 C362,430 395,478 432,506" fill="none" stroke="#1d1d1d" stroke-width="1.0" vector-effect="non-scaling-stroke"/>
</g>
<g transform="translate(190 285) scale(0.201552)">
<path d="M200,58 C170,46 140,36 122,38 C100,42 40,130 18,250 C5,340 20,440 50,490 C80,520 140,545 200,565 L260,300 Z" fill="#fff" stroke="#1d1d1d" stroke-width="1.3" vector-effect="non-scaling-stroke"/>
<path d="M82,75 C50,130 32,210 28,290 C26,360 36,420 52,462" fill="none" stroke="#1d1d1d" stroke-width="1.0" vector-effect="non-scaling-stroke"/>
<path d="M8,300 C10,360 20,400 30,425" fill="none" stroke="#1d1d1d" stroke-width="0.9" vector-effect="non-scaling-stroke"/>
<path d="M200,60 C160,110 120,210 106,320 C100,420 120,500 165,545 C180,558 192,563 200,565 C260,575 330,520 380,420 C410,350 420,260 412,200 C408,150 385,105 340,88 C300,76 250,68 200,60 Z" fill="#fff" stroke="#1d1d1d" stroke-width="1.3" vector-effect="non-scaling-stroke"/>
<path d="M216,63 C172,120 135,215 122,320 C116,415 132,490 172,540" fill="none" stroke="#1d1d1d" stroke-width="1.0" vector-effect="non-scaling-stroke"/>
<path d="M190,58 C150,105 112,205 98,315 C92,415 112,498 158,548" fill="none" stroke="#1d1d1d" stroke-width="0.9" vector-effect="non-scaling-stroke"/>
<path d="M335,88 C270,110 200,200 165,310 C140,400 150,500 200,562" fill="none" stroke="#1d1d1d" stroke-width="1.0" vector-effect="non-scaling-stroke"/>
<path d="M340,105 C285,125 220,205 188,305 C165,390 170,480 205,540" fill="none" stroke="#1d1d1d" stroke-width="1.3" vector-effect="non-scaling-stroke"/>
<path d="M330,130 C290,150 235,215 208,300 C190,370 190,440 205,490" fill="none" stroke="#1d1d1d" stroke-width="1.0" vector-effect="non-scaling-stroke"/>
<path d="M300,150 C330,135 370,140 395,165 M285,172 C320,158 360,160 392,185" fill="none" stroke="#1d1d1d" stroke-width="1.0" vector-effect="non-scaling-stroke"/>
<path d="M322,148 L335,170 L352,142 M352,142 L372,175 L388,160" fill="none" stroke="#1d1d1d" stroke-width="0.9" vector-effect="non-scaling-stroke"/>
<path d="M392,165 L398,215 M372,180 L380,212" fill="none" stroke="#1d1d1d" stroke-width="0.9" vector-effect="non-scaling-stroke"/>
<path d="M150,470 C165,500 180,520 200,535 M140,455 L168,470" fill="none" stroke="#1d1d1d" stroke-width="0.9" vector-effect="non-scaling-stroke"/>
<path d="M345,205 C290,220 235,285 210,365 C195,420 190,480 170,520 C200,560 260,600 300,612 L335,628 L442,575 L440,548 L468,535 C520,470 570,370 585,300 C587,275 586,255 576,241 L486,199 C470,195 440,203 418,216 Z" fill="#fff" stroke="#1d1d1d" stroke-width="1.3" vector-effect="non-scaling-stroke"/>
<path d="M345,205 C290,220 235,285 210,365 C200,400 198,420 200,432 L226,408" fill="none" stroke="#1d1d1d" stroke-width="1.7" vector-effect="non-scaling-stroke"/>
<path d="M300,200 C320,195 350,198 375,205" fill="none" stroke="#1d1d1d" stroke-width="1.0" vector-effect="non-scaling-stroke"/>
<path d="M372,300 L290,500" fill="none" stroke="#1d1d1d" stroke-width="0.9" vector-effect="non-scaling-stroke"/>
<path d="M405,250 C420,232 455,214 484,213 L572,254 C578,262 580,275 579,290" fill="none" stroke="#1d1d1d" stroke-width="1.0" vector-effect="non-scaling-stroke"/>
<path d="M300,612 C292,600 290,590 292,580 C300,520 340,420 380,340 C395,305 405,270 405,250" fill="none" stroke="#1d1d1d" stroke-width="1.0" vector-effect="non-scaling-stroke"/>
<ellipse cx="550.00" cy="312.00" rx="17.00" ry="33.00" transform="rotate(22.00 550.00 312.00)" fill="#fff" stroke="#1d1d1d" stroke-width="1.3" vector-effect="non-scaling-stroke"/>
<ellipse cx="356.00" cy="548.00" rx="21.00" ry="36.00" transform="rotate(22.00 356.00 548.00)" fill="#fff" stroke="#1d1d1d" stroke-width="1.3" vector-effect="non-scaling-stroke"/>
<path d="M475,338 C440,360 415,410 415,455 C415,485 428,505 445,512 L470,500 L520,350 Z" fill="#fff" stroke="#1d1d1d" stroke-width="1.3" vector-effect="non-scaling-stroke"/>
<path d="M462,352 C438,375 425,420 428,460 C430,480 436,492 446,498" fill="none" stroke="#1d1d1d" stroke-width="1.0" vector-effect="non-scaling-stroke"/>
<path d="M415,478 L440,498 L462,494" fill="none" stroke="#1d1d1d" stroke-width="1.0" vector-effect="non-scaling-stroke"/>
<ellipse cx="508.00" cy="428.00" rx="46.00" ry="78.00" transform="rotate(20.00 508.00 428.00)" fill="#fff" stroke="#1d1d1d" stroke-width="1.3" vector-effect="non-scaling-stroke"/>
<ellipse cx="500.00" cy="440.00" rx="17.00" ry="28.00" transform="rotate(20.00 500.00 440.00)" fill="#fff" stroke="#1d1d1d" stroke-width="1.3" vector-effect="non-scaling-stroke"/>
<path d="M468,535 C460,520 455,510 462,494" fill="none" stroke="#1d1d1d" stroke-width="1.0" vector-effect="non-scaling-stroke"/>
</g>
<g font-family="'Liberation Sans', sans-serif" font-size="19.5" fill="#1d1d1d" filter="url(#gf)">
<path d="M759,0 L579,0 L579,1147 Q514,1085 408.5,1023 Q303,961 223,930 L223,1104 Q371,1173 481.5,1272 Q592,1371 643,1472 L759,1472 Z" transform="translate(390.20 47) scale(0.009521 -0.009521)" stroke="none"/>
<text x="401.05" y="47">2</text>
<path d="M759,0 L579,0 L579,1147 Q514,1085 408.5,1023 Q303,961 223,930 L223,1104 Q371,1173 481.5,1272 Q592,1371 643,1472 L759,1472 Z" transform="translate(349.20 86) scale(0.009521 -0.009521)" stroke="none"/>
<text x="360.05" y="86">2</text>
<path d="M759,0 L579,0 L579,1147 Q514,1085 408.5,1023 Q303,961 223,930 L223,1104 Q371,1173 481.5,1272 Q592,1371 643,1472 L759,1472 Z" transform="translate(435.40 48.8) scale(0.009521 -0.009521)" stroke="none"/>
<path d="M759,0 L579,0 L579,1147 Q514,1085 408.5,1023 Q303,961 223,930 L223,1104 Q371,1173 481.5,1272 Q592,1371 643,1472 L759,1472 Z" transform="translate(446.25 48.8) scale(0.009521 -0.009521)" stroke="none"/>
<path d="M759,0 L579,0 L579,1147 Q514,1085 408.5,1023 Q303,961 223,930 L223,1104 Q371,1173 481.5,1272 Q592,1371 643,1472 L759,1472 Z" transform="translate(494.80 62.1) scale(0.009521 -0.009521)" stroke="none"/>
<text x="505.65" y="62.1">0</text>
<path d="M759,0 L579,0 L579,1147 Q514,1085 408.5,1023 Q303,961 223,930 L223,1104 Q371,1173 481.5,1272 Q592,1371 643,1472 L759,1472 Z" transform="translate(568.50 80) scale(0.009521 -0.009521)" stroke="none"/>
<text x="579.35" y="80">6</text>
<path d="M759,0 L579,0 L579,1147 Q514,1085 408.5,1023 Q303,961 223,930 L223,1104 Q371,1173 481.5,1272 Q592,1371 643,1472 L759,1472 Z" transform="translate(599.80 98.1) scale(0.009521 -0.009521)" stroke="none"/>
<text x="681.80" y="110.7">8</text>
<path d="M759,0 L579,0 L579,1147 Q514,1085 408.5,1023 Q303,961 223,930 L223,1104 Q371,1173 481.5,1272 Q592,1371 643,1472 L759,1472 Z" transform="translate(268.80 139.6) scale(0.009521 -0.009521)" stroke="none"/>
<text x="279.65" y="139.6">5</text>
<path d="M759,0 L579,0 L579,1147 Q514,1085 408.5,1023 Q303,961 223,930 L223,1104 Q371,1173 481.5,1272 Q592,1371 643,1472 L759,1472 Z" transform="translate(308.90 139.6) scale(0.009521 -0.009521)" stroke="none"/>
<text x="319.75" y="139.6">3</text>
<text x="372.20" y="124.7">4</text>
<text x="489.80" y="246.4">6</text>
<text x="224.70" y="281.2">2</text>
<text x="831.20" y="333.2">9</text>
<path d="M759,0 L579,0 L579,1147 Q514,1085 408.5,1023 Q303,961 223,930 L223,1104 Q371,1173 481.5,1272 Q592,1371 643,1472 L759,1472 Z" transform="translate(746.50 362.2) scale(0.009521 -0.009521)" stroke="none"/>
<path d="M759,0 L579,0 L579,1147 Q514,1085 408.5,1023 Q303,961 223,930 L223,1104 Q371,1173 481.5,1272 Q592,1371 643,1472 L759,1472 Z" transform="translate(738.90 458.2) scale(0.009521 -0.009521)" stroke="none"/>
<text x="749.75" y="458.2">6</text>
<path d="M759,0 L579,0 L579,1147 Q514,1085 408.5,1023 Q303,961 223,930 L223,1104 Q371,1173 481.5,1272 Q592,1371 643,1472 L759,1472 Z" transform="translate(693.70 518.8) scale(0.009521 -0.009521)" stroke="none"/>
<text x="704.55" y="518.8">0</text>
<path d="M759,0 L579,0 L579,1147 Q514,1085 408.5,1023 Q303,961 223,930 L223,1104 Q371,1173 481.5,1272 Q592,1371 643,1472 L759,1472 Z" transform="translate(650.80 569.2) scale(0.009521 -0.009521)" stroke="none"/>
<path d="M759,0 L579,0 L579,1147 Q514,1085 408.5,1023 Q303,961 223,930 L223,1104 Q371,1173 481.5,1272 Q592,1371 643,1472 L759,1472 Z" transform="translate(661.65 569.2) scale(0.009521 -0.009521)" stroke="none"/>
<path d="M759,0 L579,0 L579,1147 Q514,1085 408.5,1023 Q303,961 223,930 L223,1104 Q371,1173 481.5,1272 Q592,1371 643,1472 L759,1472 Z" transform="translate(600.00 540.3) scale(0.009521 -0.009521)" stroke="none"/>
<text x="610.85" y="540.3">2</text>
<path d="M759,0 L579,0 L579,1147 Q514,1085 408.5,1023 Q303,961 223,930 L223,1104 Q371,1173 481.5,1272 Q592,1371 643,1472 L759,1472 Z" transform="translate(617.70 596.6) scale(0.009521 -0.009521)" stroke="none"/>
<text x="628.55" y="596.6">2</text>
<path d="M759,0 L579,0 L579,1147 Q514,1085 408.5,1023 Q303,961 223,930 L223,1104 Q371,1173 481.5,1272 Q592,1371 643,1472 L759,1472 Z" transform="translate(586.00 482.6) scale(0.009521 -0.009521)" stroke="none"/>
<text x="596.85" y="482.6">4</text>
<path d="M759,0 L579,0 L579,1147 Q514,1085 408.5,1023 Q303,961 223,930 L223,1104 Q371,1173 481.5,1272 Q592,1371 643,1472 L759,1472 Z" transform="translate(544.90 612.2) scale(0.009521 -0.009521)" stroke="none"/>
<text x="555.75" y="612.2">4</text>
<text x="471.60" y="410.3">3</text>
<text x="146.60" y="481.3">5</text>
<text x="344.60" y="500.4">7</text>
<path d="M759,0 L579,0 L579,1147 Q514,1085 408.5,1023 Q303,961 223,930 L223,1104 Q371,1173 481.5,1272 Q592,1371 643,1472 L759,1472 Z" transform="translate(169.80 575.2) scale(0.009521 -0.009521)" stroke="none"/>
<text x="180.65" y="575.2">3</text>
<path d="M759,0 L579,0 L579,1147 Q514,1085 408.5,1023 Q303,961 223,930 L223,1104 Q371,1173 481.5,1272 Q592,1371 643,1472 L759,1472 Z" transform="translate(141.00 605.8) scale(0.009521 -0.009521)" stroke="none"/>
<text x="151.85" y="605.8">5</text>
</g>
<line x1="400.5" y1="49" x2="400.5" y2="61" stroke="#1d1d1d" stroke-width="1.2"/>
<line x1="372" y1="79.5" x2="391" y2="79.5" stroke="#1d1d1d" stroke-width="1.2"/>
<line x1="446" y1="52" x2="446" y2="64" stroke="#1d1d1d" stroke-width="1.2"/>
<line x1="505.5" y1="65" x2="505.5" y2="81.5" stroke="#1d1d1d" stroke-width="1.2"/>
<line x1="575.6" y1="82" x2="575.6" y2="94" stroke="#1d1d1d" stroke-width="1.2"/>
<line x1="606.2" y1="100" x2="606.2" y2="112.5" stroke="#1d1d1d" stroke-width="1.2"/>
<line x1="686.7" y1="112" x2="686.7" y2="133.5" stroke="#1d1d1d" stroke-width="1.2"/>
<line x1="279.3" y1="142.5" x2="279.3" y2="154.6" stroke="#1d1d1d" stroke-width="1.2"/>
<line x1="316" y1="141.5" x2="316" y2="153" stroke="#1d1d1d" stroke-width="1.2"/>
<line x1="377" y1="126.5" x2="377" y2="138.8" stroke="#1d1d1d" stroke-width="1.2"/>
<line x1="495.4" y1="249.4" x2="495.4" y2="266.2" stroke="#1d1d1d" stroke-width="1.2"/>
<line x1="229.5" y1="283.6" x2="229.5" y2="296" stroke="#1d1d1d" stroke-width="1.2"/>
<line x1="836.8" y1="302" x2="836.8" y2="317.7" stroke="#1d1d1d" stroke-width="1.2"/>
<line x1="752.3" y1="363.6" x2="752.3" y2="376.7" stroke="#1d1d1d" stroke-width="1.2"/>
<line x1="744.9" y1="431" x2="744.9" y2="441.8" stroke="#1d1d1d" stroke-width="1.2"/>
<line x1="703.6" y1="482.7" x2="703.6" y2="501.3" stroke="#1d1d1d" stroke-width="1.2"/>
<line x1="662" y1="539.3" x2="662" y2="554.2" stroke="#1d1d1d" stroke-width="1.2"/>
<line x1="611.4" y1="542" x2="611.4" y2="553.3" stroke="#1d1d1d" stroke-width="1.2"/>
<line x1="628.5" y1="570.4" x2="628.5" y2="581.2" stroke="#1d1d1d" stroke-width="1.2"/>
<line x1="598.1" y1="491.2" x2="598.1" y2="503.1" stroke="#1d1d1d" stroke-width="1.2"/>
<line x1="556.8" y1="583.1" x2="556.8" y2="594.3" stroke="#1d1d1d" stroke-width="1.2"/>
<line x1="477.1" y1="413" x2="477.1" y2="432.4" stroke="#1d1d1d" stroke-width="1.2"/>
<line x1="159.5" y1="474.7" x2="170.7" y2="474.7" stroke="#1d1d1d" stroke-width="1.2"/>
<line x1="350.3" y1="502.5" x2="350.3" y2="518" stroke="#1d1d1d" stroke-width="1.2"/>
<line x1="192.1" y1="569.4" x2="210.6" y2="569.4" stroke="#1d1d1d" stroke-width="1.2"/>
<line x1="163.7" y1="599.1" x2="183.1" y2="599.1" stroke="#1d1d1d" stroke-width="1.2"/>
<path d="M514.5,468.2 L546.2,486.9 L550.6,481.9 L571,495.6" fill="none" stroke="#1d1d1d" stroke-width="1.0" />
<path d="M497.2,511.4 L530.2,528.3 L519.1,543.1 L535.8,554.5" fill="none" stroke="#1d1d1d" stroke-width="1.0" />
<rect x="0.5" y="0.5" width="959" height="644" fill="none" stroke="#000" stroke-width="1"/>
</svg>
</body></html>
